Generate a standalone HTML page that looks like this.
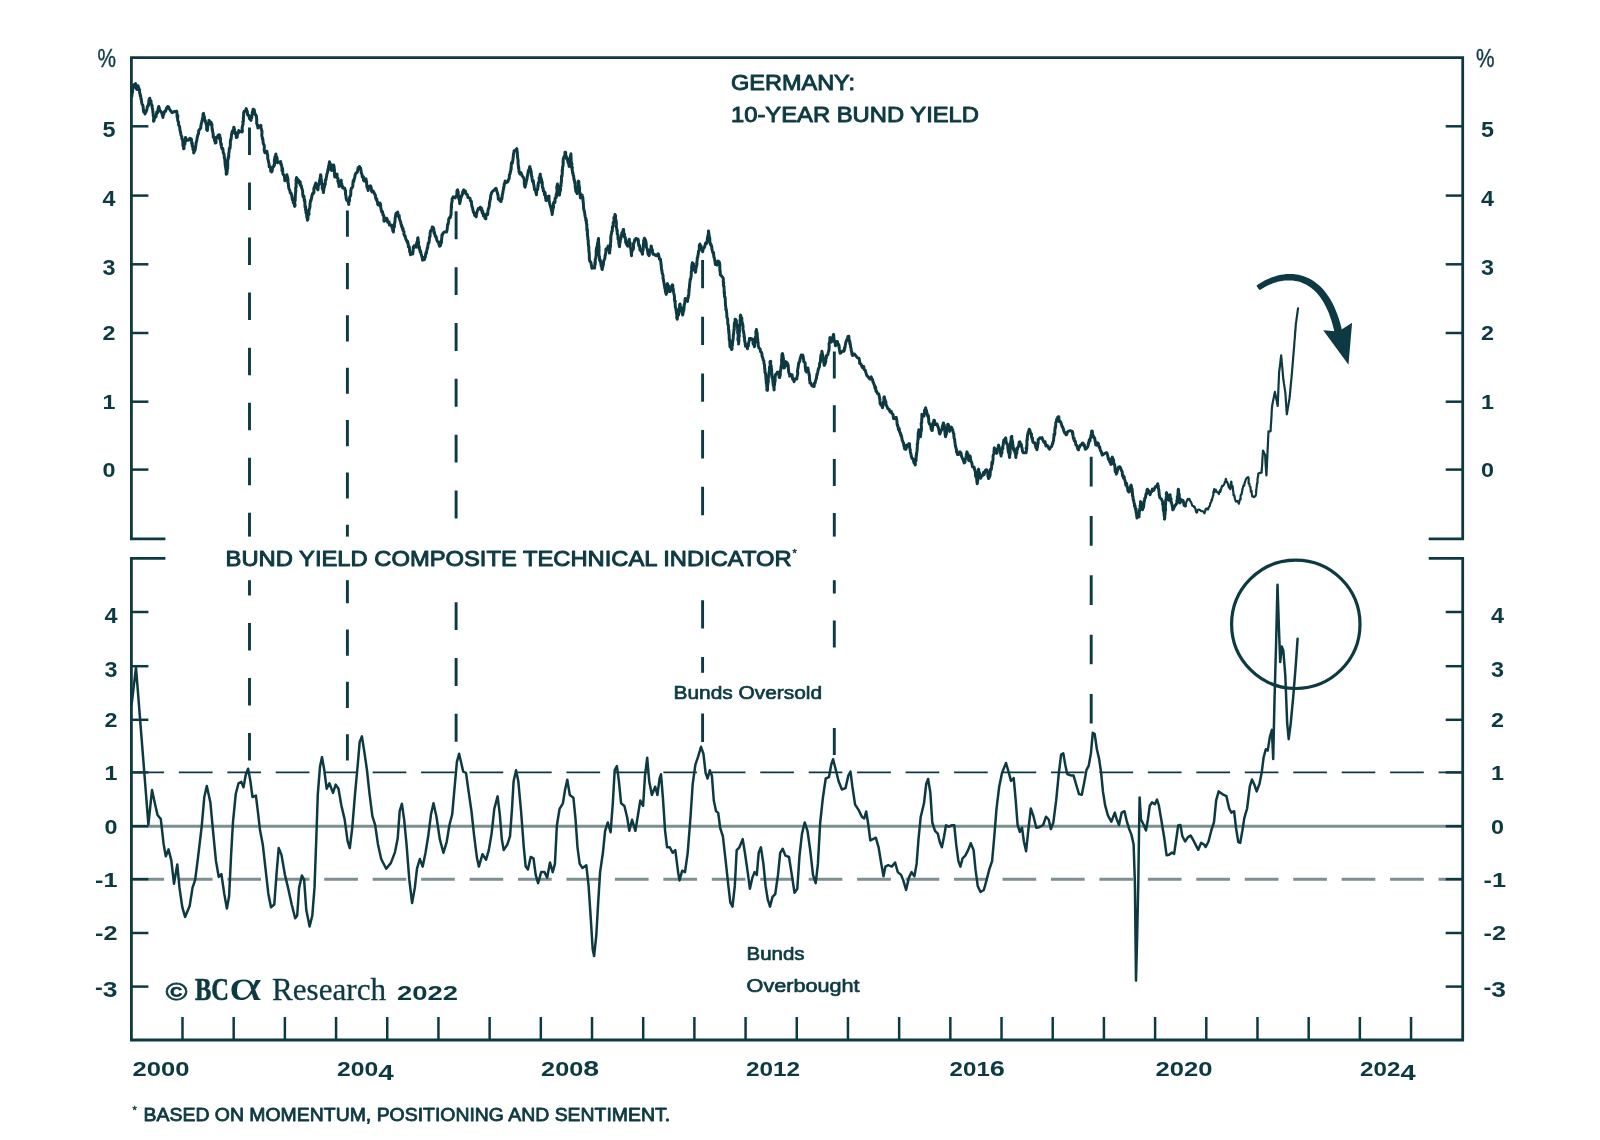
<!DOCTYPE html>
<html><head><meta charset="utf-8"><title>Germany 10-Year Bund Yield</title>
<style>html,body{margin:0;padding:0;background:#fff}body{width:1600px;height:1140px;position:relative;overflow:hidden}</style>
</head><body>
<svg width="1600" height="1140" viewBox="0 0 1600 1140" style="position:absolute;left:0;top:0;filter:blur(0.45px)">
<rect width="1600" height="1140" fill="#fff"/>
<line x1="249.5" y1="127.4" x2="249.5" y2="760.5" stroke="#0d3a42" stroke-width="2.9" stroke-dasharray="27.53 27.53"/>
<line x1="347.4" y1="210.6" x2="347.4" y2="760.4" stroke="#0d3a42" stroke-width="2.9" stroke-dasharray="26.18 26.18"/>
<line x1="456.1" y1="211.3" x2="456.1" y2="741.8" stroke="#0d3a42" stroke-width="2.9" stroke-dasharray="27.92 27.92"/>
<line x1="702.6" y1="260" x2="702.6" y2="741.9" stroke="#0d3a42" stroke-width="2.9" stroke-dasharray="28.35 28.35"/>
<line x1="834.3" y1="351.5" x2="834.3" y2="755" stroke="#0d3a42" stroke-width="2.9" stroke-dasharray="26.90 26.90"/>
<line x1="1091.2" y1="456.8" x2="1091.2" y2="723.6" stroke="#0d3a42" stroke-width="2.9" stroke-dasharray="29.64 29.64"/>
<rect x="222" y="536.6" width="630" height="43.6" fill="#fff"/>
<rect x="668" y="672.8" width="184" height="38.5" fill="#fff"/>
<line x1="131.4" y1="826.2" x2="1462.7" y2="826.2" stroke="#7d8f91" stroke-width="3"/>
<line x1="130.4" y1="879.2" x2="1462.7" y2="879.2" stroke="#7d8f91" stroke-width="3" stroke-dasharray="33.7 14.75"/>
<line x1="130.4" y1="772.4" x2="1462.7" y2="772.4" stroke="#0d3a42" stroke-width="1.6" stroke-dasharray="33.7 14.75"/>
<path d="M165.4,538.8 H131.4 V57.6 H1462.7 V538.8 H1428.7" fill="none" stroke="#0d3a42" stroke-width="2.8" stroke-linejoin="miter"/>
<path d="M165.4,558.3 H131.4 V1040.0 H1462.7 V558.3 H1428.7" fill="none" stroke="#0d3a42" stroke-width="2.8" stroke-linejoin="miter"/>
<line x1="131.4" y1="126.3" x2="148.4" y2="126.3" stroke="#0d3a42" stroke-width="2.5"/>
<line x1="1462.7" y1="126.3" x2="1445.7" y2="126.3" stroke="#0d3a42" stroke-width="2.5"/>
<line x1="131.4" y1="195.6" x2="148.4" y2="195.6" stroke="#0d3a42" stroke-width="2.5"/>
<line x1="1462.7" y1="195.6" x2="1445.7" y2="195.6" stroke="#0d3a42" stroke-width="2.5"/>
<line x1="131.4" y1="264.3" x2="148.4" y2="264.3" stroke="#0d3a42" stroke-width="2.5"/>
<line x1="1462.7" y1="264.3" x2="1445.7" y2="264.3" stroke="#0d3a42" stroke-width="2.5"/>
<line x1="131.4" y1="333.0" x2="148.4" y2="333.0" stroke="#0d3a42" stroke-width="2.5"/>
<line x1="1462.7" y1="333.0" x2="1445.7" y2="333.0" stroke="#0d3a42" stroke-width="2.5"/>
<line x1="131.4" y1="401.7" x2="148.4" y2="401.7" stroke="#0d3a42" stroke-width="2.5"/>
<line x1="1462.7" y1="401.7" x2="1445.7" y2="401.7" stroke="#0d3a42" stroke-width="2.5"/>
<line x1="131.4" y1="469.6" x2="148.4" y2="469.6" stroke="#0d3a42" stroke-width="2.5"/>
<line x1="1462.7" y1="469.6" x2="1445.7" y2="469.6" stroke="#0d3a42" stroke-width="2.5"/>
<line x1="131.4" y1="612.0" x2="148.4" y2="612.0" stroke="#0d3a42" stroke-width="2.5"/>
<line x1="1462.7" y1="612.0" x2="1445.7" y2="612.0" stroke="#0d3a42" stroke-width="2.5"/>
<line x1="131.4" y1="666.2" x2="148.4" y2="666.2" stroke="#0d3a42" stroke-width="2.5"/>
<line x1="1462.7" y1="666.2" x2="1445.7" y2="666.2" stroke="#0d3a42" stroke-width="2.5"/>
<line x1="131.4" y1="719.8" x2="148.4" y2="719.8" stroke="#0d3a42" stroke-width="2.5"/>
<line x1="1462.7" y1="719.8" x2="1445.7" y2="719.8" stroke="#0d3a42" stroke-width="2.5"/>
<line x1="131.4" y1="772.4" x2="148.4" y2="772.4" stroke="#0d3a42" stroke-width="2.5"/>
<line x1="1462.7" y1="772.4" x2="1445.7" y2="772.4" stroke="#0d3a42" stroke-width="2.5"/>
<line x1="131.4" y1="826.2" x2="148.4" y2="826.2" stroke="#0d3a42" stroke-width="2.5"/>
<line x1="1462.7" y1="826.2" x2="1445.7" y2="826.2" stroke="#0d3a42" stroke-width="2.5"/>
<line x1="131.4" y1="879.2" x2="148.4" y2="879.2" stroke="#0d3a42" stroke-width="2.5"/>
<line x1="1462.7" y1="879.2" x2="1445.7" y2="879.2" stroke="#0d3a42" stroke-width="2.5"/>
<line x1="131.4" y1="933.0" x2="148.4" y2="933.0" stroke="#0d3a42" stroke-width="2.5"/>
<line x1="1462.7" y1="933.0" x2="1445.7" y2="933.0" stroke="#0d3a42" stroke-width="2.5"/>
<line x1="131.4" y1="986.6" x2="148.4" y2="986.6" stroke="#0d3a42" stroke-width="2.5"/>
<line x1="1462.7" y1="986.6" x2="1445.7" y2="986.6" stroke="#0d3a42" stroke-width="2.5"/>
<line x1="182.49" y1="1040.0" x2="182.49" y2="1017.0" stroke="#0d3a42" stroke-width="2.5"/>
<line x1="233.68" y1="1040.0" x2="233.68" y2="1017.0" stroke="#0d3a42" stroke-width="2.5"/>
<line x1="284.87" y1="1040.0" x2="284.87" y2="1017.0" stroke="#0d3a42" stroke-width="2.5"/>
<line x1="336.06" y1="1040.0" x2="336.06" y2="1017.0" stroke="#0d3a42" stroke-width="2.5"/>
<line x1="387.25" y1="1040.0" x2="387.25" y2="1017.0" stroke="#0d3a42" stroke-width="2.5"/>
<line x1="438.44" y1="1040.0" x2="438.44" y2="1017.0" stroke="#0d3a42" stroke-width="2.5"/>
<line x1="489.63" y1="1040.0" x2="489.63" y2="1017.0" stroke="#0d3a42" stroke-width="2.5"/>
<line x1="540.82" y1="1040.0" x2="540.82" y2="1017.0" stroke="#0d3a42" stroke-width="2.5"/>
<line x1="592.01" y1="1040.0" x2="592.01" y2="1017.0" stroke="#0d3a42" stroke-width="2.5"/>
<line x1="643.20" y1="1040.0" x2="643.20" y2="1017.0" stroke="#0d3a42" stroke-width="2.5"/>
<line x1="694.39" y1="1040.0" x2="694.39" y2="1017.0" stroke="#0d3a42" stroke-width="2.5"/>
<line x1="745.58" y1="1040.0" x2="745.58" y2="1017.0" stroke="#0d3a42" stroke-width="2.5"/>
<line x1="796.77" y1="1040.0" x2="796.77" y2="1017.0" stroke="#0d3a42" stroke-width="2.5"/>
<line x1="847.96" y1="1040.0" x2="847.96" y2="1017.0" stroke="#0d3a42" stroke-width="2.5"/>
<line x1="899.15" y1="1040.0" x2="899.15" y2="1017.0" stroke="#0d3a42" stroke-width="2.5"/>
<line x1="950.34" y1="1040.0" x2="950.34" y2="1017.0" stroke="#0d3a42" stroke-width="2.5"/>
<line x1="1001.53" y1="1040.0" x2="1001.53" y2="1017.0" stroke="#0d3a42" stroke-width="2.5"/>
<line x1="1052.72" y1="1040.0" x2="1052.72" y2="1017.0" stroke="#0d3a42" stroke-width="2.5"/>
<line x1="1103.91" y1="1040.0" x2="1103.91" y2="1017.0" stroke="#0d3a42" stroke-width="2.5"/>
<line x1="1155.10" y1="1040.0" x2="1155.10" y2="1017.0" stroke="#0d3a42" stroke-width="2.5"/>
<line x1="1206.29" y1="1040.0" x2="1206.29" y2="1017.0" stroke="#0d3a42" stroke-width="2.5"/>
<line x1="1257.48" y1="1040.0" x2="1257.48" y2="1017.0" stroke="#0d3a42" stroke-width="2.5"/>
<line x1="1308.67" y1="1040.0" x2="1308.67" y2="1017.0" stroke="#0d3a42" stroke-width="2.5"/>
<line x1="1359.86" y1="1040.0" x2="1359.86" y2="1017.0" stroke="#0d3a42" stroke-width="2.5"/>
<line x1="1411.05" y1="1040.0" x2="1411.05" y2="1017.0" stroke="#0d3a42" stroke-width="2.5"/>
<path d="M131.9,96.2 L131.9,94.1 L132.1,94.0 L132.5,92.2 L132.8,88.9 L133.0,87.4 L133.3,87.9 L133.7,84.8 L134.8,84.9 L135.3,83.8 L135.5,83.6 L136.3,87.0 L136.3,88.2 L136.7,89.3 L137.1,89.5 L138.1,85.8 L138.3,88.7 L138.5,87.2 L139.3,89.2 L139.5,90.1 L139.7,93.3 L140.2,94.1 L140.2,95.8 L140.6,95.3 L141.0,99.3 L141.4,99.3 L141.5,101.3 L142.0,104.1 L142.2,104.4 L142.7,104.8 L143.2,107.3 L143.3,109.5 L143.6,111.9 L144.3,111.0 L144.6,111.3 L145.0,114.1 L145.5,110.9 L145.9,112.4 L146.2,111.5 L146.9,109.4 L147.2,107.5 L147.7,105.8 L148.4,105.7 L148.7,102.7 L149.1,99.5 L149.7,100.3 L149.8,98.2 L150.1,101.0 L150.7,100.8 L151.0,100.9 L151.2,103.0 L151.9,105.8 L152.2,105.6 L152.1,107.4 L152.7,109.9 L152.7,110.2 L153.1,113.6 L153.3,116.2 L153.3,115.5 L153.7,117.4 L153.5,121.3 L153.9,121.0 L154.5,118.3 L155.3,117.1 L156.0,116.8 L156.2,115.7 L156.7,111.9 L157.2,111.9 L157.7,112.7 L158.0,109.5 L158.1,108.7 L158.8,106.5 L159.6,109.7 L160.3,111.2 L160.8,111.3 L161.3,112.4 L161.9,112.8 L162.1,114.2 L162.9,117.5 L163.2,115.1 L163.7,114.4 L164.3,111.8 L165.0,111.0 L165.6,111.3 L166.6,107.8 L166.8,108.6 L167.7,106.5 L168.5,106.9 L169.3,108.7 L170.5,110.6 L172.1,112.7 L173.2,112.0 L174.9,111.5 L176.7,111.3 L176.7,111.2 L177.0,113.8 L177.1,117.2 L177.8,115.5 L177.6,119.1 L177.8,120.7 L178.6,122.2 L178.6,125.0 L178.7,125.1 L179.0,125.5 L179.6,126.5 L179.9,129.4 L179.9,129.9 L180.7,133.2 L181.0,134.8 L181.3,136.0 L181.5,136.1 L181.8,136.6 L181.8,138.6 L182.3,138.9 L182.8,141.4 L183.0,145.7 L183.6,147.2 L183.6,148.8 L184.0,148.5 L184.0,145.8 L184.3,144.2 L184.9,144.3 L184.9,143.6 L185.3,141.3 L185.5,137.4 L185.6,137.5 L186.7,140.1 L187.4,140.3 L188.4,140.3 L189.9,138.3 L191.1,138.9 L191.6,139.7 L191.7,143.8 L192.3,143.1 L192.2,145.9 L192.4,145.0 L193.1,149.7 L193.5,148.2 L193.7,153.0 L193.9,152.7 L194.3,150.7 L194.3,148.4 L195.0,150.4 L195.5,147.3 L195.8,145.5 L195.8,145.7 L196.2,142.0 L196.6,141.6 L197.0,139.0 L197.2,137.5 L197.8,135.4 L197.8,134.8 L198.4,134.1 L198.7,131.9 L198.7,130.6 L199.8,129.2 L200.8,127.9 L200.8,126.5 L201.1,124.7 L201.8,121.5 L201.9,120.8 L202.2,121.5 L202.4,118.5 L202.9,118.0 L203.0,114.7 L203.1,113.8 L203.5,113.4 L203.9,116.0 L204.4,116.6 L204.5,119.5 L204.9,119.8 L205.4,120.9 L205.6,122.3 L205.9,123.5 L206.5,125.0 L206.7,127.3 L206.6,129.6 L207.3,129.5 L207.4,130.6 L207.4,130.5 L207.8,126.1 L207.9,124.5 L208.4,123.0 L208.8,124.4 L208.9,120.4 L209.0,120.3 L209.9,122.0 L211.1,122.3 L211.6,125.4 L211.9,124.3 L211.9,126.6 L212.3,130.5 L212.3,128.7 L212.6,131.7 L212.8,132.0 L213.2,134.7 L213.2,137.0 L213.8,137.7 L214.1,137.0 L214.6,140.8 L215.2,139.9 L215.2,143.0 L216.0,142.8 L216.1,138.7 L216.9,137.0 L217.3,137.5 L218.1,135.2 L219.4,134.7 L219.9,136.0 L219.7,139.1 L220.4,138.0 L220.5,141.2 L220.4,140.9 L220.9,144.8 L221.4,143.9 L221.4,147.1 L222.1,149.1 L222.6,148.2 L223.0,149.5 L223.2,152.5 L224.0,154.2 L224.2,155.4 L224.2,155.9 L224.4,158.4 L224.6,158.1 L224.8,159.3 L225.0,161.8 L225.2,165.0 L225.3,165.4 L225.4,166.2 L225.6,167.3 L226.1,170.6 L226.3,169.9 L226.2,174.3 L226.7,174.0 L226.8,173.8 L227.2,170.9 L227.2,169.0 L227.6,168.7 L227.7,165.8 L227.8,165.7 L227.7,163.0 L227.8,160.0 L228.3,158.6 L228.1,157.8 L228.7,155.6 L228.8,157.2 L228.7,153.3 L229.0,152.7 L229.2,150.3 L229.4,148.2 L230.0,147.1 L230.0,148.4 L230.4,144.0 L230.3,142.7 L230.5,139.9 L230.8,140.3 L231.1,138.9 L231.4,136.2 L231.6,134.0 L232.0,132.8 L232.2,131.2 L232.6,130.8 L233.2,130.4 L233.6,129.6 L233.8,127.2 L234.5,129.5 L234.5,129.7 L234.8,133.5 L235.5,134.0 L236.0,132.7 L236.3,137.6 L236.6,137.5 L237.2,137.1 L237.4,133.3 L238.0,133.4 L238.4,133.2 L238.7,130.6 L240.6,131.6 L242.1,132.0 L242.4,131.2 L242.1,128.0 L242.5,126.1 L242.9,124.5 L242.9,124.8 L243.1,123.6 L242.8,121.6 L243.4,121.4 L243.4,118.7 L243.3,117.9 L243.6,116.7 L243.7,112.6 L243.8,113.7 L244.2,111.3 L245.5,110.9 L246.2,108.6 L246.6,109.9 L247.2,111.2 L247.5,113.8 L247.6,114.7 L248.3,115.5 L248.8,115.3 L249.6,118.8 L250.1,119.3 L251.0,120.3 L251.2,117.0 L251.8,117.8 L251.8,116.3 L252.2,114.1 L252.3,112.3 L252.6,112.4 L253.1,109.3 L253.9,112.4 L254.2,109.8 L255.0,114.3 L255.2,114.0 L255.9,115.5 L256.4,115.8 L256.4,117.4 L256.7,118.7 L256.7,123.5 L257.2,124.5 L257.5,126.3 L257.9,125.2 L257.9,127.9 L259.0,126.8 L260.7,125.8 L260.9,125.3 L261.0,128.5 L261.3,128.7 L261.8,130.9 L262.0,131.1 L261.8,135.9 L262.4,137.7 L262.4,139.0 L262.8,138.9 L262.9,139.9 L263.3,143.9 L263.4,142.9 L263.4,144.1 L264.1,144.9 L264.4,147.2 L264.2,148.6 L264.4,151.2 L264.8,152.7 L266.1,151.5 L266.9,151.3 L267.3,154.4 L267.7,154.9 L267.7,157.7 L267.7,158.4 L268.2,160.0 L268.5,161.6 L268.4,161.3 L269.0,163.7 L269.2,166.8 L269.8,166.3 L270.5,167.0 L270.7,171.1 L271.1,171.2 L271.7,171.9 L272.2,170.8 L272.5,167.9 L273.5,166.6 L273.8,166.4 L273.9,164.9 L274.6,165.0 L274.3,161.6 L274.6,159.0 L274.8,158.0 L275.2,156.1 L275.8,155.9 L275.8,154.0 L276.1,156.4 L276.5,156.4 L276.8,157.7 L277.1,157.8 L277.3,162.8 L277.9,162.3 L279.4,162.0 L280.7,161.6 L280.8,164.5 L281.1,163.6 L281.6,165.6 L282.1,169.2 L281.9,170.4 L282.6,168.5 L282.8,173.4 L282.8,173.6 L283.4,174.7 L284.2,175.6 L284.7,178.8 L284.8,180.7 L285.5,180.2 L285.6,177.3 L286.3,177.5 L286.7,177.8 L286.9,174.7 L287.3,176.8 L287.4,177.6 L287.7,177.4 L288.0,179.7 L287.9,182.9 L288.1,182.4 L288.6,186.0 L288.4,185.4 L288.9,188.5 L289.5,189.9 L289.9,190.8 L290.3,193.0 L291.1,193.2 L291.7,195.4 L292.2,198.6 L292.4,199.7 L292.7,198.4 L293.3,202.7 L293.3,201.5 L294.1,203.6 L294.2,204.7 L294.7,206.4 L295.1,205.5 L294.6,202.2 L295.0,201.2 L294.9,201.0 L295.3,200.0 L295.1,197.3 L295.3,197.6 L295.3,195.5 L295.7,191.6 L295.9,190.3 L295.6,189.6 L295.8,187.0 L296.2,187.2 L296.0,183.6 L296.4,182.4 L296.0,180.6 L296.3,178.7 L296.6,180.6 L296.5,177.5 L297.8,179.8 L298.6,180.2 L299.2,183.3 L300.2,181.7 L300.4,185.3 L301.3,185.7 L301.6,187.9 L301.9,188.3 L302.1,189.0 L302.6,191.0 L302.8,195.3 L303.2,196.9 L303.9,196.0 L304.1,198.1 L304.3,200.9 L304.5,199.3 L305.0,202.0 L304.9,202.8 L305.0,207.1 L305.7,206.6 L305.4,209.5 L305.7,208.0 L306.0,213.0 L306.6,213.8 L306.5,213.6 L306.9,217.6 L307.2,216.3 L307.2,218.0 L307.5,220.2 L307.9,216.7 L308.1,218.8 L307.9,217.5 L308.4,213.1 L309.0,214.5 L308.8,210.7 L309.1,209.4 L309.2,209.9 L309.7,207.9 L310.0,206.5 L310.0,204.2 L310.3,202.2 L310.7,200.1 L311.0,200.6 L311.8,196.9 L311.9,195.7 L312.6,193.5 L313.0,194.0 L313.7,191.9 L314.0,192.8 L313.8,188.9 L314.4,186.9 L314.7,187.9 L315.1,184.7 L315.6,184.8 L315.8,183.0 L316.4,185.3 L316.4,186.4 L316.9,188.5 L317.4,188.7 L317.9,189.8 L318.0,189.3 L318.3,185.8 L318.9,183.9 L318.9,184.1 L319.5,181.9 L319.4,180.8 L319.9,180.5 L319.8,179.7 L320.5,176.1 L320.6,174.7 L321.1,177.6 L321.0,175.8 L321.1,177.7 L321.6,182.6 L321.7,183.9 L322.0,185.1 L322.4,184.2 L322.2,188.4 L322.8,188.5 L322.8,188.5 L323.0,189.7 L323.4,192.6 L323.7,190.1 L323.8,190.2 L324.2,186.1 L324.4,187.2 L324.7,184.2 L325.2,184.6 L325.3,180.1 L325.9,179.9 L326.1,178.8 L326.2,177.9 L326.9,174.5 L326.9,174.0 L327.7,172.0 L327.7,170.6 L328.0,169.2 L328.6,169.8 L328.5,166.3 L328.8,166.2 L329.5,161.8 L329.6,162.3 L330.1,163.4 L330.5,164.7 L330.4,166.3 L331.0,165.9 L331.5,169.7 L331.6,170.6 L332.2,167.5 L332.7,167.3 L333.1,165.0 L333.7,165.1 L334.1,166.6 L334.0,166.4 L334.5,170.7 L334.1,169.7 L334.8,174.2 L334.4,173.8 L334.8,177.1 L335.0,176.8 L336.1,177.1 L337.1,174.1 L337.1,176.9 L337.4,178.3 L338.0,178.3 L337.9,181.6 L338.3,180.7 L338.5,183.5 L338.7,183.4 L339.1,186.5 L339.9,185.8 L340.2,181.5 L340.4,182.9 L341.2,180.3 L341.2,183.1 L341.8,183.7 L341.9,185.3 L342.4,186.0 L342.6,187.9 L344.6,187.9 L345.0,189.1 L345.1,190.7 L345.5,190.6 L345.5,194.0 L346.1,196.7 L346.0,197.0 L346.2,198.6 L346.7,200.3 L347.4,200.1 L348.1,201.4 L348.8,204.4 L348.7,202.9 L349.0,201.9 L349.6,200.7 L349.4,198.3 L349.9,196.8 L349.9,197.0 L350.7,195.1 L350.8,193.1 L350.8,190.6 L351.5,188.0 L351.9,187.8 L351.9,188.1 L352.8,186.3 L352.9,183.7 L353.2,180.6 L353.4,182.0 L353.8,181.2 L354.1,179.5 L354.9,176.8 L355.0,175.5 L355.9,172.9 L357.0,172.7 L357.6,171.2 L358.1,167.8 L359.2,166.7 L359.5,166.5 L360.2,168.7 L360.6,168.2 L360.9,169.5 L361.3,173.1 L361.9,174.1 L362.3,177.0 L362.9,177.2 L363.4,176.6 L363.5,180.1 L363.9,181.0 L364.8,181.1 L366.0,178.9 L366.3,182.3 L366.7,181.3 L366.6,183.1 L366.8,185.7 L367.1,187.5 L367.8,188.2 L367.9,189.5 L368.1,190.6 L368.4,188.7 L369.1,186.3 L369.9,187.5 L370.5,185.8 L371.2,187.4 L371.2,187.4 L371.5,191.1 L372.2,192.0 L373.0,190.9 L373.9,192.3 L374.9,194.7 L375.4,195.0 L375.6,197.9 L376.1,199.4 L376.8,198.8 L376.7,200.6 L377.4,201.4 L377.7,204.4 L378.9,205.2 L379.8,203.0 L380.0,204.0 L380.5,203.8 L380.7,207.4 L381.1,209.1 L381.6,211.6 L381.8,211.3 L382.5,211.6 L382.6,212.2 L382.9,215.0 L383.6,215.0 L383.8,216.2 L384.0,221.3 L384.6,220.9 L385.7,218.3 L386.7,218.2 L387.3,219.6 L387.6,222.2 L388.2,221.5 L389.1,221.9 L389.4,225.1 L391.5,225.1 L392.0,227.6 L392.5,225.8 L392.7,230.2 L393.1,231.5 L393.5,231.9 L393.5,229.3 L393.6,227.9 L394.3,226.8 L394.5,226.7 L394.3,225.3 L394.6,223.1 L394.9,222.6 L395.1,219.0 L395.1,220.3 L395.1,218.4 L395.6,215.4 L396.1,213.3 L397.3,214.1 L397.7,212.0 L398.0,214.5 L398.4,216.5 L399.2,215.5 L399.4,218.6 L399.7,219.5 L400.4,221.6 L400.7,222.2 L401.1,224.5 L401.5,224.8 L401.6,226.7 L402.2,226.7 L402.5,229.2 L403.2,228.9 L403.0,230.5 L404.0,231.7 L403.9,234.1 L404.6,236.1 L405.0,235.6 L406.0,239.6 L406.6,240.2 L407.2,242.4 L407.5,241.2 L408.1,243.8 L408.5,247.0 L408.7,247.1 L409.3,246.9 L409.7,251.8 L409.6,250.1 L409.9,251.6 L410.5,254.7 L412.1,254.0 L412.7,254.0 L413.0,251.8 L413.1,250.4 L413.3,246.9 L413.7,248.1 L414.2,245.7 L415.2,245.7 L416.3,247.1 L416.4,243.7 L416.9,243.2 L416.9,242.1 L417.2,243.0 L417.5,241.0 L417.7,238.1 L417.9,237.7 L418.3,240.8 L418.6,241.9 L418.5,244.1 L418.7,246.9 L419.0,248.2 L419.3,246.4 L419.7,249.8 L420.4,252.4 L420.5,250.8 L421.1,254.2 L421.3,254.5 L421.9,256.6 L422.3,257.7 L422.5,260.2 L424.5,259.5 L424.7,257.3 L425.2,257.5 L425.7,253.8 L426.1,252.3 L426.4,253.4 L426.6,251.2 L426.9,250.4 L427.2,248.1 L427.4,248.7 L427.7,247.3 L428.2,243.2 L428.7,243.0 L428.9,243.0 L429.4,239.4 L429.4,237.2 L429.9,236.9 L430.1,236.2 L430.1,233.1 L430.7,230.7 L430.7,230.6 L431.7,230.1 L432.3,226.9 L433.1,227.1 L433.5,229.7 L433.8,228.7 L434.0,233.2 L434.4,231.9 L434.9,234.7 L435.6,236.9 L435.8,236.1 L436.4,237.8 L436.9,240.3 L437.6,241.6 L438.4,242.3 L439.6,246.2 L440.4,245.7 L441.0,242.5 L440.9,241.0 L441.4,242.9 L441.5,240.4 L441.9,236.6 L442.0,234.7 L442.5,234.7 L443.2,232.9 L444.5,231.9 L446.6,231.9 L447.0,230.0 L447.1,229.6 L447.3,227.8 L447.7,224.3 L448.0,223.8 L448.1,224.3 L448.5,221.4 L448.7,219.5 L449.2,217.8 L450.3,217.7 L450.7,215.4 L451.0,215.0 L451.1,213.8 L451.1,211.5 L451.3,208.7 L451.3,206.3 L451.6,207.5 L451.4,205.4 L451.7,203.1 L451.8,202.4 L452.2,201.1 L452.1,198.9 L453.2,196.9 L454.2,197.5 L455.1,197.9 L456.2,196.1 L456.9,194.5 L456.9,191.2 L457.4,190.1 L457.6,189.9 L457.8,193.2 L458.1,191.4 L458.4,194.7 L458.6,196.1 L458.8,198.9 L459.3,198.8 L459.3,199.5 L459.6,201.7 L459.7,203.7 L460.4,200.7 L460.2,200.1 L460.9,198.3 L461.3,195.7 L461.7,196.1 L462.4,194.3 L462.6,192.4 L463.4,190.4 L463.8,189.9 L464.5,192.8 L465.4,191.1 L465.9,193.4 L466.4,194.3 L467.4,194.6 L467.9,197.5 L470.0,198.2 L470.4,200.8 L470.7,200.8 L471.3,201.2 L471.5,203.1 L471.9,206.4 L472.1,206.5 L472.5,207.9 L472.9,209.7 L473.5,212.4 L474.1,212.7 L474.7,215.4 L475.4,214.9 L476.2,216.8 L476.4,215.1 L477.0,212.0 L477.1,211.8 L477.6,210.5 L478.0,209.6 L478.3,208.5 L479.2,208.5 L480.3,207.1 L481.1,210.2 L481.6,208.1 L482.2,212.9 L482.7,211.2 L483.1,214.0 L483.5,215.8 L484.7,214.5 L485.0,218.3 L485.8,218.9 L486.0,215.7 L486.8,214.8 L486.9,213.7 L487.7,214.4 L487.9,211.3 L488.4,208.4 L488.7,208.6 L489.0,207.2 L489.3,206.1 L489.5,202.2 L489.8,202.0 L490.0,200.3 L490.6,198.6 L490.5,197.7 L490.8,195.1 L491.1,194.7 L491.5,193.2 L492.0,192.0 L493.0,191.0 L494.1,190.3 L494.8,189.2 L496.0,188.3 L496.9,191.3 L497.3,192.7 L497.9,195.0 L498.1,195.3 L498.3,199.2 L498.9,198.9 L500.0,200.8 L501.0,201.6 L501.4,198.2 L501.8,199.2 L502.2,196.2 L502.2,195.4 L502.2,195.4 L502.8,193.1 L503.1,190.6 L503.6,188.6 L503.6,187.3 L504.1,186.6 L504.2,183.9 L504.6,183.4 L504.7,183.7 L505.1,181.0 L506.5,182.6 L507.9,181.7 L508.2,180.2 L509.0,178.7 L509.3,177.7 L509.4,174.9 L510.0,174.1 L510.3,171.7 L510.7,171.5 L511.0,167.5 L511.2,169.3 L511.3,164.4 L511.5,162.7 L512.0,163.1 L512.3,163.2 L512.7,160.6 L512.9,160.1 L513.1,157.3 L513.4,156.1 L513.4,154.5 L513.8,152.9 L514.1,150.7 L515.2,150.7 L516.8,148.6 L516.7,148.8 L517.4,152.7 L517.2,153.8 L517.6,155.9 L517.4,156.4 L517.6,156.9 L517.8,158.5 L518.2,161.3 L518.1,160.5 L518.0,161.9 L518.4,166.5 L518.5,168.5 L518.6,166.4 L519.0,170.2 L518.9,171.3 L519.9,173.9 L521.0,172.7 L521.4,173.7 L522.2,176.0 L523.0,176.8 L523.0,176.9 L523.7,177.8 L524.2,179.8 L524.4,181.1 L524.2,182.7 L524.7,186.6 L525.1,187.2 L525.2,186.6 L525.9,182.4 L526.2,183.6 L526.0,182.2 L526.7,180.3 L527.1,178.2 L527.2,176.8 L527.8,174.4 L527.7,174.8 L528.4,170.5 L528.5,172.2 L529.3,168.7 L529.8,166.6 L529.9,166.5 L529.9,167.9 L530.5,168.9 L530.8,170.7 L531.1,170.9 L531.3,173.3 L531.4,175.8 L531.9,176.3 L532.0,178.2 L532.5,181.4 L532.6,181.2 L533.3,180.6 L533.6,184.5 L533.8,184.4 L534.1,186.5 L534.6,189.8 L534.7,189.6 L535.5,190.3 L535.7,191.5 L536.2,193.8 L536.4,194.7 L536.5,194.4 L536.8,189.6 L537.2,189.7 L537.7,189.7 L537.9,185.0 L538.2,186.5 L538.2,183.7 L538.4,182.6 L539.0,182.4 L539.3,180.3 L539.1,177.6 L539.8,177.1 L540.1,174.3 L540.3,174.1 L540.4,177.4 L541.0,177.7 L541.0,178.7 L541.6,179.4 L541.7,183.1 L542.2,181.9 L542.3,185.1 L542.5,187.6 L543.2,188.2 L543.2,190.8 L543.6,190.5 L543.6,190.7 L544.2,192.1 L544.4,194.7 L544.7,193.0 L545.0,192.3 L545.2,193.3 L545.2,193.7 L545.6,198.5 L546.0,196.3 L545.9,200.4 L546.4,200.6 L547.0,199.6 L547.5,197.9 L548.4,196.5 L549.0,196.0 L549.0,200.7 L549.2,200.9 L549.6,203.1 L550.1,205.2 L550.5,206.0 L550.5,206.1 L550.5,206.5 L550.9,207.7 L551.1,208.6 L551.8,211.9 L552.2,212.8 L552.2,214.4 L552.1,214.5 L552.5,211.7 L553.1,208.2 L553.1,207.2 L553.6,207.2 L553.4,205.8 L553.5,203.3 L554.0,202.0 L554.9,202.5 L555.1,198.1 L556.0,197.9 L556.1,195.4 L556.6,196.4 L556.2,194.6 L556.8,192.9 L557.1,190.8 L556.7,186.9 L557.4,188.2 L557.1,186.3 L557.4,184.1 L557.8,186.0 L557.9,185.7 L558.1,187.8 L558.4,190.3 L558.7,190.9 L558.9,194.2 L559.5,195.1 L559.5,194.5 L560.1,190.2 L560.3,189.4 L560.5,190.5 L560.5,186.1 L561.0,184.4 L561.0,185.9 L561.0,182.8 L561.3,182.8 L561.5,179.9 L561.5,179.0 L561.5,175.9 L562.0,176.4 L562.3,172.7 L562.2,171.7 L562.2,169.8 L562.4,171.0 L562.6,166.9 L563.0,166.0 L563.2,163.7 L563.3,162.0 L563.0,163.0 L563.2,160.8 L563.3,158.4 L563.6,157.9 L564.4,156.0 L564.9,157.1 L565.0,152.2 L565.7,152.4 L565.7,155.4 L566.2,156.1 L566.4,158.4 L566.9,159.1 L567.1,157.8 L567.7,160.7 L568.3,163.4 L568.7,162.2 L569.1,166.4 L569.8,166.2 L569.7,164.9 L570.2,161.8 L570.0,162.4 L570.1,158.3 L570.5,158.9 L570.4,156.0 L570.9,155.8 L570.9,153.8 L571.1,156.5 L570.9,155.6 L571.2,159.2 L571.1,160.6 L571.4,162.4 L571.9,164.0 L571.5,164.1 L571.9,167.3 L571.9,168.6 L572.4,167.4 L572.1,169.6 L572.5,171.1 L572.6,173.1 L572.9,172.5 L573.2,175.6 L573.6,175.7 L574.0,179.8 L574.2,179.2 L574.5,180.9 L574.6,182.7 L575.1,182.3 L575.2,187.3 L575.5,186.9 L575.5,188.4 L575.9,191.5 L576.1,189.7 L576.9,191.3 L577.0,193.7 L576.9,190.3 L577.2,191.4 L577.7,187.1 L577.9,187.8 L577.8,186.8 L578.4,185.9 L578.3,181.1 L578.8,181.3 L578.9,182.8 L578.8,183.5 L579.0,185.5 L579.6,187.7 L579.6,187.4 L579.5,191.3 L580.2,193.2 L580.0,192.9 L580.2,196.2 L580.6,195.9 L580.5,197.9 L581.3,197.6 L582.2,195.1 L582.3,195.6 L582.9,197.9 L583.0,200.8 L583.2,202.4 L583.1,200.8 L583.6,206.0 L583.5,204.6 L583.6,207.7 L583.6,208.8 L584.1,209.9 L584.3,211.6 L584.4,211.1 L585.1,216.3 L585.4,217.5 L585.9,218.4 L585.7,220.1 L586.3,219.9 L586.3,221.9 L586.4,223.5 L586.9,224.4 L586.7,226.2 L586.9,227.3 L586.9,230.5 L587.3,229.3 L587.4,230.1 L587.4,234.9 L587.5,233.6 L587.5,236.1 L587.6,235.9 L587.9,238.0 L587.9,239.5 L588.2,240.1 L588.3,244.6 L588.4,244.7 L588.6,246.5 L588.8,246.5 L588.8,249.0 L588.9,251.2 L588.9,251.5 L589.2,252.6 L589.3,254.7 L589.3,254.8 L589.4,259.7 L589.6,260.0 L589.8,261.2 L590.6,261.7 L591.0,263.2 L591.2,264.0 L591.9,268.2 L592.5,268.1 L594.6,268.1 L594.7,264.9 L595.0,264.9 L594.9,262.1 L595.3,264.0 L595.2,259.4 L595.6,258.7 L595.8,258.2 L595.8,257.6 L596.1,255.8 L596.1,254.4 L596.3,253.0 L596.1,252.1 L596.2,250.4 L596.7,247.5 L597.0,247.0 L597.5,244.5 L597.5,243.3 L598.1,242.6 L598.1,240.4 L598.5,238.5 L598.5,239.9 L598.5,242.5 L598.7,242.7 L598.7,244.2 L599.1,247.4 L598.9,247.8 L598.9,248.1 L599.1,249.5 L598.9,252.8 L599.1,255.7 L599.5,256.9 L599.4,257.1 L599.6,260.5 L600.3,259.9 L600.2,259.8 L600.8,263.6 L601.3,266.5 L601.8,266.5 L601.8,268.0 L602.2,269.5 L602.4,268.9 L602.8,266.2 L603.3,264.8 L603.4,264.7 L603.6,261.0 L604.0,260.8 L604.2,259.8 L604.8,258.6 L604.8,258.6 L605.2,254.9 L605.3,255.5 L605.9,252.1 L605.9,249.1 L606.3,248.8 L607.4,249.4 L608.1,246.1 L608.2,247.5 L608.9,250.4 L609.4,251.5 L609.4,253.1 L609.7,253.0 L609.7,250.1 L610.0,250.0 L609.9,247.2 L610.3,247.5 L610.6,244.9 L610.2,244.6 L610.7,242.2 L610.8,240.2 L610.7,237.5 L610.9,239.4 L610.8,237.2 L611.1,235.1 L611.5,233.7 L611.8,231.4 L612.3,231.0 L612.3,229.8 L612.4,226.7 L612.7,227.8 L613.2,225.4 L613.2,222.2 L613.9,222.4 L614.1,221.1 L613.9,217.4 L614.4,218.6 L614.6,216.8 L615.0,214.4 L615.0,214.6 L615.6,215.8 L615.4,219.3 L615.6,220.3 L616.1,220.3 L616.4,223.9 L616.3,224.9 L616.2,225.6 L616.6,228.2 L617.1,231.4 L617.3,230.4 L617.2,233.9 L617.8,234.5 L618.1,235.6 L617.9,236.1 L618.1,239.5 L618.7,239.3 L618.9,241.5 L618.7,242.1 L619.0,244.0 L619.4,246.1 L619.6,246.6 L619.7,243.6 L620.2,242.1 L620.3,240.2 L621.1,237.7 L621.0,237.2 L621.5,236.4 L621.7,233.8 L622.0,232.6 L622.6,233.0 L623.2,229.5 L623.5,229.5 L623.6,229.5 L623.8,234.0 L624.5,234.0 L624.4,237.0 L624.9,236.7 L625.3,238.3 L625.6,239.2 L625.6,241.9 L626.1,243.3 L626.7,244.5 L627.7,246.1 L627.8,245.5 L628.4,244.9 L628.5,241.4 L628.8,241.0 L629.3,239.2 L629.3,242.2 L629.7,242.2 L630.1,242.8 L630.2,244.7 L630.2,247.0 L630.3,247.8 L630.9,248.4 L631.0,250.5 L631.1,251.1 L631.3,253.7 L631.5,255.7 L631.5,253.4 L631.9,251.9 L632.5,249.6 L632.6,248.6 L633.1,249.6 L633.5,247.9 L633.4,243.4 L633.9,243.3 L634.7,239.8 L635.1,240.8 L635.9,238.5 L638.0,239.2 L638.4,240.4 L638.4,243.1 L638.8,245.3 L639.0,246.0 L639.7,245.5 L639.9,249.6 L640.1,250.2 L640.6,249.7 L641.5,251.6 L642.5,254.3 L642.6,252.1 L642.7,249.6 L642.8,250.6 L643.2,249.9 L643.1,248.0 L643.5,245.4 L643.3,243.7 L643.9,244.2 L643.6,240.5 L644.1,241.4 L644.2,238.5 L644.5,238.2 L645.4,240.0 L646.0,242.0 L646.3,244.7 L646.3,247.1 L646.9,248.2 L647.5,249.8 L647.4,249.3 L647.9,253.4 L648.4,254.7 L648.9,255.3 L649.0,255.7 L649.3,254.9 L649.7,251.2 L649.9,251.3 L650.0,251.9 L650.2,249.9 L651.0,248.3 L651.1,246.1 L651.4,246.5 L651.8,250.7 L652.0,250.4 L652.4,249.8 L652.6,252.6 L653.1,254.3 L654.3,254.3 L655.9,255.7 L657.0,255.5 L658.0,253.7 L658.3,253.8 L658.9,256.2 L659.4,259.1 L660.0,258.6 L660.5,259.3 L660.5,260.2 L660.9,262.5 L661.1,264.9 L661.2,264.9 L661.4,268.2 L661.8,270.4 L661.7,269.3 L662.1,272.3 L662.2,273.4 L662.5,273.7 L663.1,275.9 L663.0,278.4 L663.5,279.5 L663.6,281.2 L664.1,283.4 L664.1,283.2 L664.9,288.5 L665.1,286.4 L665.4,291.6 L665.6,289.7 L665.7,292.6 L666.2,294.4 L666.1,293.1 L666.7,293.1 L667.1,290.5 L666.8,289.1 L667.0,286.0 L667.5,283.6 L667.6,284.1 L667.9,286.9 L668.5,285.8 L669.1,290.0 L669.4,288.8 L669.6,291.6 L670.3,291.6 L670.6,288.2 L671.2,288.8 L671.9,285.6 L672.4,284.7 L672.9,285.8 L672.6,286.8 L673.3,289.7 L673.6,292.2 L674.0,294.1 L673.9,294.0 L674.1,294.2 L674.5,297.1 L674.4,298.9 L674.6,300.8 L675.3,301.3 L674.9,301.4 L675.2,304.2 L675.3,306.9 L676.0,308.8 L675.9,310.0 L676.2,309.5 L676.3,311.9 L676.4,312.7 L676.9,315.4 L676.7,317.9 L677.0,316.9 L677.2,319.2 L677.4,317.9 L677.5,314.9 L678.0,313.9 L678.6,315.0 L678.9,313.1 L678.9,311.9 L678.9,309.8 L679.5,307.8 L679.7,304.7 L680.0,304.0 L680.3,307.2 L680.5,307.4 L681.2,307.5 L681.2,307.7 L681.7,311.6 L682.1,310.6 L682.4,313.2 L682.7,315.1 L683.0,313.2 L683.2,312.3 L683.3,309.0 L683.8,310.6 L684.2,306.0 L684.0,305.1 L684.3,304.7 L684.8,303.0 L685.0,300.4 L685.2,298.5 L685.5,298.5 L686.3,300.3 L687.6,301.3 L687.5,299.4 L688.2,298.0 L688.3,296.9 L688.1,296.2 L688.7,295.7 L689.0,290.6 L688.8,290.2 L689.2,291.0 L689.2,288.7 L689.6,286.1 L689.5,285.8 L689.9,282.1 L690.2,279.8 L690.2,279.1 L690.4,279.6 L690.7,278.9 L690.9,277.4 L691.2,276.1 L691.3,271.6 L691.5,270.9 L691.7,270.7 L691.6,267.1 L692.1,268.0 L691.8,266.5 L692.0,264.6 L692.4,262.7 L693.0,264.3 L693.5,263.9 L693.6,267.5 L694.2,267.0 L694.7,270.9 L694.8,269.4 L695.5,272.3 L695.9,269.2 L696.0,268.0 L696.3,266.9 L696.2,265.7 L696.6,266.1 L697.0,263.8 L696.7,263.3 L697.2,259.9 L697.2,257.9 L697.9,257.1 L697.7,256.8 L698.4,252.9 L698.4,253.5 L698.5,251.2 L698.9,251.2 L699.3,249.9 L699.3,245.3 L699.9,244.4 L699.9,244.1 L700.2,246.0 L701.0,245.8 L701.6,248.5 L702.1,249.7 L702.7,251.7 L703.3,248.3 L703.5,248.3 L704.5,247.4 L704.8,246.2 L705.6,243.0 L706.8,243.4 L706.9,242.6 L707.3,239.4 L707.5,237.8 L707.9,237.3 L707.6,237.6 L708.2,234.4 L708.4,234.1 L708.5,231.0 L708.8,233.1 L708.8,233.6 L709.4,236.9 L709.5,239.0 L709.8,238.0 L709.8,241.3 L710.0,242.4 L710.3,243.4 L710.6,245.0 L711.0,244.4 L711.8,246.8 L711.8,248.9 L712.1,249.3 L712.4,251.1 L713.0,253.1 L713.6,252.5 L713.7,255.6 L714.0,257.5 L714.2,257.2 L714.6,259.2 L715.1,262.2 L715.4,264.5 L715.8,264.1 L717.0,265.1 L717.9,261.0 L719.2,262.0 L719.7,263.8 L719.7,264.4 L719.9,266.1 L719.8,266.1 L719.9,270.9 L719.9,269.8 L720.2,270.9 L720.3,274.5 L720.6,275.1 L721.7,276.1 L723.1,277.9 L723.4,279.8 L723.2,281.4 L723.8,283.2 L723.3,284.2 L724.0,286.5 L723.6,286.1 L724.0,287.0 L724.2,291.2 L724.1,292.9 L724.5,292.0 L724.4,294.8 L724.5,296.4 L724.7,297.1 L724.9,296.9 L725.2,298.3 L725.3,301.0 L725.4,303.5 L725.4,304.5 L725.9,307.9 L725.8,309.6 L726.4,309.6 L726.2,310.0 L726.4,310.8 L726.8,313.7 L726.8,316.3 L727.2,318.1 L727.5,318.6 L727.7,320.2 L727.7,322.0 L727.8,324.1 L728.2,324.7 L728.5,327.0 L728.4,328.7 L728.9,330.2 L728.6,330.4 L729.1,332.1 L728.7,332.0 L729.2,334.9 L729.2,337.5 L729.3,339.9 L729.3,340.4 L729.5,339.0 L729.8,340.6 L729.8,344.0 L730.0,347.0 L730.3,346.7 L730.8,346.7 L731.6,349.5 L732.1,348.9 L731.7,345.1 L732.0,346.1 L732.4,345.4 L732.5,342.5 L732.7,341.7 L733.2,338.3 L733.3,335.9 L733.4,334.2 L733.7,334.1 L733.7,333.0 L733.9,329.7 L734.3,329.5 L734.2,330.1 L734.2,325.7 L734.4,324.4 L734.4,322.7 L734.9,323.3 L735.2,319.9 L735.1,319.2 L735.6,319.4 L736.3,320.6 L736.5,324.8 L737.1,324.7 L737.4,327.2 L737.3,326.8 L737.7,329.1 L737.7,329.3 L737.6,332.5 L738.0,333.9 L738.1,333.9 L738.2,336.0 L737.9,339.5 L738.5,341.0 L738.0,340.2 L738.7,340.9 L738.5,344.0 L738.9,340.5 L738.9,339.5 L738.6,337.8 L738.7,338.6 L739.3,335.7 L739.4,335.7 L739.0,335.2 L739.6,330.7 L739.2,331.0 L739.4,328.8 L739.5,327.0 L740.1,323.8 L740.2,323.5 L740.0,321.1 L740.1,319.7 L740.4,318.3 L740.5,316.7 L740.2,316.6 L740.6,315.1 L740.9,315.8 L741.1,319.5 L741.8,318.0 L741.9,322.1 L741.9,321.0 L742.1,322.4 L742.7,324.7 L742.8,324.4 L743.1,327.3 L742.9,328.7 L743.5,331.5 L743.6,332.4 L744.1,334.5 L744.1,336.7 L744.0,336.3 L744.6,337.9 L744.5,339.3 L744.7,341.2 L745.1,342.4 L745.5,346.3 L746.6,346.2 L747.0,346.3 L747.5,348.8 L747.6,346.8 L747.8,344.6 L748.5,345.7 L748.4,344.5 L748.8,342.2 L749.3,340.5 L749.5,338.5 L751.2,338.4 L752.3,339.8 L752.9,339.2 L753.1,344.0 L753.8,344.4 L754.0,344.3 L754.4,346.7 L754.5,346.3 L754.6,344.7 L754.9,342.5 L754.9,341.7 L755.3,340.1 L755.5,337.0 L755.8,335.8 L755.9,335.2 L755.9,333.9 L755.9,331.3 L756.3,332.7 L756.4,329.5 L756.6,331.0 L756.6,333.6 L757.1,332.5 L757.2,335.1 L757.5,338.0 L757.2,339.6 L757.8,339.1 L757.6,342.3 L757.8,341.0 L758.1,342.3 L758.3,346.5 L758.5,346.7 L758.9,347.9 L760.2,349.1 L760.5,351.7 L761.4,352.2 L761.9,353.6 L762.0,356.0 L762.5,357.1 L762.7,357.8 L763.0,358.6 L763.1,360.0 L763.8,360.7 L764.0,363.3 L764.5,365.1 L764.5,364.9 L764.7,369.1 L764.9,369.1 L765.0,372.7 L765.7,373.5 L765.6,373.4 L765.8,376.1 L766.1,378.8 L765.9,378.7 L766.2,380.5 L766.3,383.1 L766.7,383.4 L766.7,386.6 L767.0,386.4 L766.9,390.1 L767.2,389.9 L767.5,390.3 L767.6,386.3 L767.4,384.6 L767.8,384.8 L768.0,382.3 L768.3,382.3 L768.3,377.3 L768.4,377.5 L768.6,376.1 L768.7,376.0 L769.2,373.1 L769.1,371.5 L769.5,370.4 L769.6,369.6 L769.4,367.1 L769.9,366.7 L770.2,365.6 L770.0,361.6 L770.4,361.7 L770.8,361.4 L770.5,363.0 L771.0,367.0 L771.2,365.7 L771.3,369.8 L771.6,368.6 L771.7,371.5 L772.0,375.3 L772.0,374.7 L772.0,377.7 L772.5,377.1 L773.0,377.3 L772.7,379.9 L772.9,381.6 L773.3,385.3 L773.4,385.4 L773.6,385.1 L774.1,389.9 L774.1,389.9 L774.1,389.8 L774.1,385.7 L774.4,385.5 L774.7,383.7 L774.7,382.7 L774.8,382.0 L775.1,381.0 L775.1,376.0 L775.3,376.4 L775.5,374.7 L776.4,373.6 L777.6,372.0 L778.2,372.5 L778.7,373.9 L779.2,377.3 L779.6,377.5 L780.1,375.7 L780.3,374.1 L780.3,370.9 L780.3,371.6 L780.5,370.9 L781.0,367.9 L780.9,366.8 L781.3,366.7 L781.4,364.7 L781.7,362.8 L781.5,359.8 L781.6,360.5 L781.8,359.4 L781.9,354.7 L782.5,356.0 L782.4,353.4 L782.6,354.5 L783.0,355.3 L782.7,358.5 L783.2,357.4 L783.5,358.8 L783.3,361.2 L783.5,363.8 L783.6,365.2 L783.9,368.1 L784.2,367.9 L784.4,367.7 L785.3,366.0 L785.1,362.8 L785.8,361.7 L786.6,362.3 L787.2,362.8 L787.9,365.1 L788.2,365.1 L788.4,369.2 L788.5,370.5 L788.8,372.7 L789.7,374.7 L789.7,376.3 L789.9,376.1 L790.9,374.6 L792.0,374.7 L792.4,377.1 L792.6,379.2 L793.5,378.8 L793.7,380.6 L794.1,381.6 L794.8,379.1 L796.2,378.9 L796.8,378.9 L796.8,378.7 L796.9,377.5 L797.6,374.6 L797.8,372.1 L797.4,371.8 L797.8,368.9 L798.2,367.0 L798.2,366.5 L798.7,363.8 L798.6,362.9 L799.0,362.6 L799.8,361.2 L799.9,360.0 L800.3,358.2 L801.3,355.0 L802.3,355.5 L802.8,355.2 L803.2,356.7 L803.5,359.0 L803.8,361.6 L804.4,362.3 L805.0,362.4 L805.2,364.4 L805.3,368.0 L805.4,366.5 L805.7,370.8 L806.2,370.6 L806.5,372.0 L806.9,369.1 L807.4,367.9 L807.9,367.9 L808.0,369.4 L808.2,369.7 L808.3,371.2 L808.9,372.9 L809.1,375.4 L809.4,375.0 L809.5,378.4 L809.6,380.3 L809.9,380.4 L809.9,383.0 L810.8,383.0 L812.0,385.8 L814.1,386.5 L814.4,383.1 L814.8,383.5 L815.0,383.5 L815.6,380.7 L816.1,378.9 L816.6,377.9 L816.5,377.0 L817.1,373.7 L817.0,375.3 L817.7,372.5 L817.8,371.9 L818.2,369.2 L818.6,369.1 L818.7,368.2 L819.4,366.9 L819.6,363.4 L820.3,362.3 L820.6,359.8 L820.5,359.9 L820.7,357.0 L821.0,354.8 L821.7,353.8 L821.8,354.9 L821.9,351.3 L822.2,352.8 L822.7,355.5 L822.8,356.9 L823.1,356.2 L823.5,360.4 L823.7,358.9 L823.6,361.4 L824.2,365.4 L824.4,365.1 L824.5,364.7 L825.2,363.7 L825.4,362.6 L825.8,360.9 L825.8,358.6 L826.3,358.1 L826.5,355.5 L827.0,355.6 L827.9,354.5 L828.5,351.3 L828.4,351.6 L829.0,350.1 L829.2,345.7 L829.0,344.1 L829.1,343.5 L829.7,342.1 L829.7,341.4 L829.9,338.7 L829.9,337.6 L830.6,340.1 L831.2,342.1 L831.6,341.7 L831.7,339.9 L832.5,339.5 L832.7,336.9 L833.2,337.5 L833.3,334.8 L833.6,334.4 L833.7,336.0 L834.2,340.8 L834.5,341.5 L834.6,342.0 L835.3,343.7 L835.4,345.8 L836.0,344.9 L836.7,341.4 L837.5,341.7 L837.8,343.9 L838.3,345.1 L838.6,344.3 L839.0,345.4 L839.1,347.3 L839.5,349.9 L840.1,353.2 L840.9,352.7 L842.5,350.9 L843.7,351.3 L844.3,350.4 L844.4,348.1 L844.7,349.0 L844.9,347.8 L845.2,345.8 L845.7,343.1 L846.0,341.8 L847.1,339.0 L847.6,338.7 L847.9,336.6 L848.5,336.2 L848.8,336.2 L849.1,340.8 L849.6,340.4 L849.8,344.0 L850.0,342.3 L850.5,345.4 L850.6,347.2 L851.0,348.0 L851.2,350.5 L851.7,351.4 L851.9,354.3 L852.6,353.5 L852.6,355.5 L854.6,354.0 L856.1,356.1 L857.5,357.9 L858.8,358.2 L859.3,359.4 L859.7,362.5 L859.6,363.3 L860.2,363.7 L860.9,363.9 L862.3,367.4 L863.0,366.5 L863.7,366.4 L864.1,369.5 L865.2,370.2 L865.7,372.0 L866.3,373.9 L867.0,375.8 L867.7,376.3 L868.5,377.5 L869.9,379.1 L871.2,376.8 L871.9,379.5 L872.6,379.4 L873.0,382.2 L873.2,382.0 L874.0,384.4 L874.7,386.1 L875.0,388.3 L875.6,387.1 L876.0,391.4 L876.7,391.3 L877.6,393.6 L878.8,394.0 L878.8,394.9 L879.3,396.4 L880.0,400.6 L879.9,399.1 L880.1,403.7 L880.5,402.8 L880.9,405.1 L881.6,404.9 L882.5,407.8 L882.7,405.8 L882.9,406.5 L883.5,401.9 L883.7,401.3 L884.0,400.5 L883.8,397.6 L884.3,396.8 L884.6,399.2 L885.1,399.8 L885.2,401.9 L885.9,401.7 L885.9,403.8 L886.4,405.1 L887.2,407.0 L887.9,408.9 L889.1,409.2 L890.1,411.9 L891.2,411.4 L891.9,413.3 L892.3,413.8 L893.0,414.4 L893.5,418.5 L894.0,418.8 L895.2,417.8 L896.0,417.5 L896.2,417.3 L896.9,420.8 L897.0,422.1 L897.1,424.1 L897.6,426.1 L897.7,425.1 L898.1,427.1 L898.5,429.7 L899.2,428.6 L899.5,431.4 L900.2,433.3 L900.3,432.5 L900.8,435.4 L901.2,435.0 L901.9,438.1 L902.1,440.2 L902.5,440.5 L902.9,442.2 L903.5,442.7 L903.9,446.2 L904.3,445.0 L904.6,448.8 L905.0,449.1 L905.9,449.4 L906.5,447.4 L907.0,445.0 L908.3,444.9 L909.1,443.6 L909.5,443.7 L909.7,447.5 L909.6,447.4 L910.3,450.2 L910.2,450.5 L910.4,451.8 L911.2,455.2 L911.2,456.0 L912.1,458.6 L913.2,458.8 L913.5,461.1 L914.2,463.2 L914.9,461.4 L915.3,465.0 L915.3,462.1 L915.6,460.3 L916.0,460.8 L916.2,457.3 L916.0,456.1 L916.2,456.7 L916.6,454.1 L916.7,453.3 L917.0,450.7 L917.1,449.2 L917.1,450.1 L917.4,445.5 L917.3,444.1 L917.2,444.2 L917.7,443.5 L917.7,441.9 L917.9,440.1 L918.2,437.5 L918.3,439.2 L918.1,437.5 L918.1,436.2 L918.3,432.7 L918.7,431.1 L918.8,429.8 L919.1,432.1 L919.3,432.0 L919.7,433.6 L920.3,434.1 L920.5,436.7 L920.6,435.3 L920.9,432.6 L920.7,431.1 L921.1,431.1 L921.2,431.3 L921.5,429.7 L921.4,427.3 L921.2,423.2 L921.8,421.6 L921.7,422.9 L921.7,419.6 L921.9,417.8 L921.9,419.6 L921.9,414.3 L922.2,414.7 L923.9,416.1 L924.4,414.1 L924.4,414.5 L924.5,410.3 L925.2,409.2 L925.6,409.1 L925.6,407.8 L926.2,410.8 L926.5,410.5 L926.4,410.5 L927.0,413.6 L927.2,413.5 L927.7,416.1 L928.3,415.5 L928.7,419.7 L928.7,422.1 L929.0,422.5 L929.6,424.2 L929.8,424.3 L930.0,424.4 L930.9,426.3 L931.0,428.5 L931.8,430.5 L932.3,430.4 L932.2,427.4 L932.7,427.7 L932.9,422.9 L933.5,423.7 L933.7,421.6 L933.9,420.2 L934.4,420.4 L935.2,424.6 L936.0,424.3 L937.1,424.1 L938.0,427.1 L938.2,427.0 L938.8,429.7 L939.2,431.8 L939.2,432.4 L939.8,434.0 L940.1,433.5 L940.9,431.1 L941.5,429.8 L942.0,429.2 L942.4,426.1 L942.7,426.5 L943.4,422.9 L943.6,423.0 L943.5,424.9 L944.3,425.0 L944.2,426.5 L944.7,430.2 L944.8,431.2 L944.7,430.3 L945.3,435.6 L945.1,433.4 L945.6,436.7 L946.1,434.1 L946.2,432.5 L946.5,433.8 L946.5,432.2 L946.6,427.6 L946.9,428.5 L947.6,427.8 L947.7,424.3 L948.3,424.5 L948.5,425.7 L949.1,426.9 L949.6,431.4 L949.7,431.2 L950.5,427.9 L951.0,428.7 L951.4,427.1 L952.0,428.5 L952.6,430.2 L952.6,429.5 L953.3,432.8 L953.9,434.0 L953.8,435.1 L954.1,438.0 L954.8,439.9 L954.6,439.9 L954.9,442.2 L955.0,442.9 L955.5,446.6 L955.5,445.6 L955.9,447.8 L956.6,450.1 L956.5,451.9 L957.1,451.4 L957.4,454.3 L958.0,454.6 L959.3,453.7 L960.1,451.9 L960.3,454.3 L960.9,452.9 L961.7,456.8 L962.1,457.4 L962.6,458.9 L963.2,459.8 L963.9,462.1 L964.2,462.9 L964.7,462.5 L965.1,461.8 L965.0,459.6 L965.8,458.1 L966.2,455.7 L966.5,453.4 L966.7,453.0 L967.0,451.9 L967.2,452.3 L967.6,454.0 L968.0,454.4 L968.4,459.3 L968.8,460.5 L969.0,460.2 L969.7,460.1 L969.5,458.4 L970.0,456.0 L970.2,456.4 L970.3,456.9 L971.0,461.8 L971.0,461.6 L971.7,462.3 L972.3,465.5 L972.6,466.9 L973.1,467.1 L974.0,466.9 L974.5,469.2 L975.2,471.3 L975.4,472.3 L975.5,476.2 L976.0,476.1 L976.4,477.6 L976.7,478.7 L977.0,481.3 L976.8,480.5 L977.2,483.7 L977.6,481.4 L977.4,478.8 L977.9,480.2 L977.7,476.6 L978.0,477.2 L978.2,476.0 L978.0,472.5 L978.4,470.2 L978.3,469.5 L978.6,469.2 L979.0,472.6 L979.4,472.6 L979.7,474.1 L979.7,474.4 L980.0,474.9 L980.7,478.2 L981.5,476.2 L982.7,475.4 L983.4,472.5 L984.2,474.5 L984.8,471.3 L986.0,469.7 L986.9,469.9 L987.0,470.0 L987.5,471.9 L987.9,474.8 L988.0,476.3 L988.5,478.5 L988.9,478.2 L989.0,478.1 L989.5,476.7 L990.1,475.5 L990.2,473.3 L990.5,469.3 L991.0,469.9 L991.1,469.9 L991.6,467.4 L991.7,465.8 L991.9,462.2 L992.4,464.0 L992.8,461.1 L993.1,458.9 L993.0,456.2 L993.7,453.8 L993.9,452.7 L994.0,452.0 L994.2,449.6 L994.2,448.4 L994.4,447.9 L994.7,449.3 L995.7,449.6 L995.9,451.1 L996.5,453.4 L996.7,453.1 L997.0,449.4 L997.5,448.8 L997.9,448.4 L998.0,448.0 L998.6,445.1 L999.1,447.1 L998.9,446.8 L999.3,449.0 L999.9,450.5 L999.9,450.4 L1000.2,453.3 L1000.7,453.7 L1001.1,456.1 L1001.1,453.1 L1001.6,452.5 L1001.9,453.3 L1001.9,448.3 L1002.4,449.4 L1002.9,448.4 L1002.6,446.8 L1003.1,445.7 L1003.4,442.3 L1003.9,439.9 L1004.6,441.1 L1005.5,438.2 L1005.7,437.9 L1006.3,442.7 L1006.4,443.3 L1007.0,443.5 L1007.5,445.1 L1007.9,445.5 L1007.8,447.6 L1008.3,451.7 L1008.3,450.0 L1008.8,453.5 L1009.1,452.5 L1009.4,456.9 L1009.6,457.5 L1009.7,455.0 L1009.9,455.0 L1010.1,451.7 L1010.2,453.4 L1010.1,451.6 L1010.1,450.3 L1010.5,446.1 L1010.3,447.3 L1010.4,443.1 L1010.6,442.5 L1011.0,440.0 L1011.3,440.1 L1011.2,437.9 L1011.2,436.8 L1011.8,436.3 L1011.8,438.5 L1012.4,441.0 L1012.7,442.3 L1012.6,444.2 L1013.0,445.1 L1013.2,448.0 L1013.7,450.2 L1014.3,448.7 L1014.4,450.6 L1014.9,452.2 L1015.0,452.5 L1015.6,454.6 L1015.8,457.5 L1016.2,454.1 L1016.4,453.8 L1016.8,453.6 L1016.8,450.5 L1017.5,449.1 L1017.3,447.8 L1017.9,447.9 L1018.4,446.4 L1018.6,446.3 L1019.2,442.1 L1019.9,441.7 L1020.4,443.6 L1021.2,444.4 L1021.7,447.0 L1022.0,447.9 L1022.5,451.3 L1023.3,452.8 L1024.1,452.7 L1026.1,452.7 L1026.5,449.5 L1026.1,448.2 L1026.3,447.5 L1026.8,448.8 L1026.7,445.2 L1027.0,445.5 L1026.9,443.2 L1026.9,439.7 L1027.2,440.4 L1027.5,439.5 L1027.2,438.7 L1027.5,435.5 L1028.2,432.2 L1028.1,432.6 L1028.6,431.6 L1029.2,429.3 L1029.7,429.8 L1030.5,432.6 L1030.9,434.1 L1031.4,433.8 L1031.6,437.3 L1032.2,438.9 L1032.3,437.6 L1032.8,441.7 L1033.0,442.3 L1035.1,443.0 L1035.3,445.2 L1036.1,448.0 L1036.4,446.6 L1036.9,449.2 L1036.9,449.7 L1037.6,446.1 L1037.4,446.7 L1037.7,444.7 L1038.2,443.0 L1038.1,439.5 L1038.5,439.6 L1039.8,437.8 L1041.3,438.2 L1042.0,437.7 L1043.1,440.6 L1044.0,442.3 L1045.0,441.6 L1045.9,446.0 L1046.8,445.1 L1047.8,445.9 L1048.4,447.6 L1049.5,449.2 L1050.3,447.8 L1051.6,446.5 L1051.8,445.8 L1052.6,443.2 L1052.8,443.4 L1053.1,441.5 L1053.6,440.4 L1053.7,438.2 L1054.1,435.5 L1054.0,434.3 L1054.5,434.9 L1054.9,433.4 L1054.8,430.8 L1055.2,427.0 L1055.3,428.3 L1055.7,425.8 L1055.8,422.6 L1056.5,421.5 L1056.6,419.4 L1057.2,418.9 L1057.2,420.3 L1057.8,416.9 L1058.8,416.7 L1059.0,421.5 L1059.9,421.0 L1060.6,421.9 L1061.2,423.5 L1061.9,425.8 L1062.3,427.1 L1062.7,426.8 L1063.2,428.6 L1064.0,431.3 L1064.8,433.0 L1065.6,432.7 L1066.1,434.8 L1066.7,434.5 L1067.3,432.4 L1068.1,431.3 L1070.2,430.6 L1072.3,431.3 L1072.6,434.4 L1072.7,432.3 L1073.1,436.2 L1073.3,437.7 L1073.9,439.4 L1074.1,438.0 L1074.3,441.0 L1075.2,441.1 L1075.9,444.9 L1076.4,445.1 L1076.9,445.6 L1077.8,449.0 L1078.5,449.9 L1079.0,446.9 L1079.6,447.0 L1080.5,445.1 L1081.4,444.6 L1082.6,443.0 L1083.1,443.3 L1083.8,445.6 L1084.4,444.9 L1084.7,446.9 L1085.4,449.2 L1086.4,448.6 L1087.4,447.4 L1088.1,445.8 L1088.4,443.1 L1088.8,443.4 L1089.2,439.9 L1090.0,440.8 L1090.2,438.2 L1090.8,437.7 L1090.8,436.6 L1091.4,433.3 L1091.7,430.9 L1092.0,431.3 L1092.2,431.1 L1092.7,434.1 L1093.6,437.2 L1093.7,436.7 L1094.3,438.2 L1094.7,438.1 L1095.1,441.1 L1095.6,443.2 L1095.7,444.8 L1096.4,445.1 L1097.3,442.7 L1098.4,443.7 L1098.7,445.0 L1099.1,447.2 L1099.7,447.1 L1100.3,450.1 L1100.5,450.6 L1101.2,451.5 L1102.2,455.1 L1102.6,454.7 L1103.4,454.5 L1104.6,453.4 L1106.7,452.7 L1107.3,454.1 L1107.5,454.9 L1108.5,459.3 L1108.8,458.9 L1109.3,458.8 L1109.7,462.1 L1110.5,461.3 L1110.8,464.4 L1111.2,464.1 L1111.5,460.0 L1112.2,458.6 L1112.2,457.1 L1112.6,457.5 L1112.7,460.0 L1113.0,458.7 L1113.6,460.3 L1113.8,464.3 L1114.3,464.4 L1114.7,464.5 L1114.8,466.8 L1115.0,467.0 L1115.2,471.8 L1115.9,470.3 L1116.3,474.2 L1116.4,474.0 L1117.0,472.5 L1117.1,471.7 L1117.7,469.8 L1117.8,469.5 L1118.4,467.1 L1119.6,466.8 L1120.4,467.4 L1121.2,469.9 L1121.5,470.6 L1122.2,471.7 L1122.5,476.0 L1123.2,475.4 L1123.5,478.2 L1124.2,476.9 L1124.3,478.9 L1125.1,480.6 L1125.3,482.3 L1125.9,485.1 L1126.5,483.1 L1127.1,486.9 L1127.4,487.8 L1128.0,491.0 L1128.9,492.0 L1129.4,491.9 L1129.7,489.6 L1130.0,488.7 L1130.2,487.3 L1131.0,485.3 L1131.1,485.1 L1131.4,486.3 L1131.8,489.8 L1132.1,488.8 L1132.4,492.6 L1132.5,493.8 L1132.5,495.8 L1132.9,496.1 L1133.1,498.1 L1133.3,500.2 L1133.7,500.4 L1134.0,502.9 L1134.6,504.3 L1134.4,505.9 L1135.0,505.7 L1135.4,509.0 L1135.6,509.5 L1136.0,508.6 L1136.0,512.1 L1136.4,512.8 L1136.7,516.1 L1136.7,515.4 L1137.0,518.1 L1137.8,516.4 L1139.1,516.7 L1138.9,514.5 L1139.2,514.9 L1139.2,510.5 L1139.5,511.6 L1139.7,509.0 L1140.2,508.9 L1140.1,505.4 L1140.2,506.2 L1140.5,504.7 L1140.5,501.6 L1141.0,502.2 L1140.9,504.6 L1141.7,506.1 L1141.8,507.2 L1142.4,508.1 L1142.5,509.8 L1142.6,509.1 L1143.0,506.5 L1143.5,507.6 L1144.0,502.8 L1144.1,501.1 L1144.4,501.3 L1144.6,500.2 L1144.7,498.5 L1145.5,497.5 L1145.5,497.2 L1146.1,493.6 L1146.1,494.5 L1147.0,493.5 L1146.9,490.3 L1147.4,489.2 L1148.3,491.4 L1148.6,490.7 L1149.6,492.6 L1150.1,494.7 L1150.8,492.1 L1151.6,491.9 L1152.4,489.1 L1152.9,489.2 L1153.8,490.3 L1154.5,488.5 L1155.6,486.4 L1156.7,486.7 L1157.7,483.7 L1158.1,486.2 L1158.4,486.2 L1158.1,487.1 L1158.8,489.8 L1159.1,492.9 L1159.3,492.9 L1159.1,494.6 L1159.7,496.4 L1159.7,497.5 L1160.7,498.5 L1161.5,499.2 L1162.5,501.6 L1162.7,502.7 L1162.6,504.3 L1162.9,503.9 L1163.3,508.2 L1163.2,507.7 L1163.3,510.3 L1164.0,512.0 L1163.9,511.9 L1164.2,515.4 L1164.4,516.8 L1164.6,516.5 L1164.6,518.8 L1164.4,519.1 L1164.8,517.7 L1164.7,512.8 L1165.1,514.2 L1165.1,510.1 L1165.6,510.6 L1165.5,508.0 L1165.3,506.2 L1165.6,504.4 L1165.6,504.7 L1165.7,501.5 L1165.8,499.7 L1166.1,499.2 L1166.2,497.2 L1166.6,496.8 L1166.7,495.5 L1166.3,494.0 L1166.6,492.6 L1166.8,494.5 L1167.2,494.3 L1168.2,498.0 L1168.2,498.3 L1168.7,500.2 L1169.0,498.5 L1169.3,498.2 L1170.0,494.7 L1170.1,494.7 L1170.1,496.5 L1170.8,499.1 L1171.0,498.7 L1171.1,502.4 L1171.3,502.0 L1171.8,504.0 L1172.3,506.2 L1172.2,505.4 L1172.7,509.7 L1172.8,509.8 L1173.6,508.8 L1174.5,506.5 L1174.9,505.7 L1175.9,504.5 L1177.0,503.0 L1176.9,500.2 L1177.5,501.5 L1177.3,496.5 L1177.6,496.8 L1178.0,494.8 L1177.9,493.2 L1178.1,494.0 L1178.1,490.6 L1178.3,489.2 L1178.6,490.3 L1178.6,493.4 L1178.8,493.3 L1179.3,494.8 L1179.1,497.0 L1179.6,497.7 L1179.7,498.5 L1179.6,499.5 L1180.0,503.0 L1181.4,499.8 L1182.4,500.2 L1182.8,500.2 L1183.3,501.2 L1184.1,505.3 L1184.5,505.7 L1185.4,506.0" fill="none" stroke="#0d3a42" stroke-width="3.0" stroke-linejoin="round" stroke-linecap="round"/>
<path d="M1185.4,506.0 L1186.1,503.2 L1186.5,501.6 L1187.7,499.0 L1188.2,499.5 L1189.3,498.8 L1190.2,501.2 L1190.4,501.1 L1191.4,503.0 L1192.4,505.8 L1193.5,506.1 L1194.1,507.1 L1194.5,506.6 L1195.2,508.3 L1196.3,512.1 L1196.9,512.6 L1197.6,510.1 L1198.8,509.5 L1199.6,509.8 L1201.3,511.2 L1202.4,511.2 L1203.7,511.7 L1204.4,513.3 L1205.1,511.4 L1205.7,509.1 L1206.5,508.5 L1208.0,509.5 L1208.6,507.5 L1209.9,505.7 L1210.3,503.1 L1211.1,502.4 L1211.5,499.8 L1212.0,500.2 L1212.0,499.4 L1212.8,496.8 L1212.9,495.8 L1213.3,495.4 L1213.4,491.7 L1214.0,492.5 L1214.1,489.2 L1215.0,491.8 L1215.7,489.6 L1216.8,491.9 L1218.0,492.5 L1218.9,494.0 L1219.8,490.4 L1220.3,491.9 L1221.0,489.2 L1222.1,485.8 L1222.9,486.1 L1223.7,485.1 L1224.4,483.8 L1225.0,481.6 L1225.5,482.2 L1225.8,478.9 L1226.4,480.9 L1227.0,481.6 L1227.9,483.7 L1228.7,486.9 L1229.4,488.0 L1229.9,488.5 L1230.3,489.1 L1230.6,485.0 L1230.8,483.4 L1231.2,481.6 L1231.3,481.6 L1231.5,483.0 L1231.6,486.3 L1232.3,487.8 L1232.6,486.1 L1233.0,489.3 L1233.0,490.8 L1233.4,491.9 L1233.5,495.1 L1233.9,495.8 L1234.3,495.2 L1234.9,498.9 L1235.2,499.7 L1235.8,501.1 L1236.1,501.6 L1237.5,501.0 L1238.9,503.7 L1239.1,503.0 L1239.4,501.3 L1240.2,498.7 L1240.6,499.5 L1240.6,495.9 L1240.9,494.7 L1241.5,494.6 L1242.0,491.8 L1242.4,490.2 L1242.3,489.1 L1242.7,488.8 L1243.0,487.1 L1243.7,485.1 L1244.2,485.6 L1244.5,483.3 L1245.2,481.5 L1245.8,479.5 L1247.0,477.5 L1247.8,477.5 L1248.2,477.1 L1248.7,478.8 L1248.6,483.5 L1249.2,483.3 L1249.7,485.8 L1249.9,486.4 L1250.6,487.2 L1250.5,487.9 L1250.9,491.8 L1251.5,490.7 L1251.7,492.7 L1252.2,496.4 L1252.7,496.1 L1253.9,497.2 L1255.4,496.1 L1255.4,496.2 L1255.9,494.7 L1256.1,493.4 L1256.2,490.6 L1256.3,490.0 L1256.8,485.5 L1256.8,486.8 L1256.8,485.0 L1257.3,482.4 L1257.5,482.9 L1257.5,479.5 L1257.9,476.6 L1258.1,476.7 L1258.3,473.6 L1258.9,473.3 L1260.2,472.9 L1261.6,472.7 L1261.6,470.3 L1262.0,469.9 L1261.7,468.6 L1261.9,468.3 L1262.1,465.3 L1262.2,463.8 L1262.3,462.4 L1262.3,460.9 L1262.4,459.4 L1262.5,458.0 L1262.6,456.5 L1262.7,455.0 L1262.8,453.6 L1262.9,452.1 L1263.0,450.6 L1263.7,452.0 L1264.4,453.4 L1265.1,454.7 L1265.2,456.2 L1265.3,457.7 L1265.3,459.2 L1265.4,460.7 L1265.5,462.1 L1265.6,463.6 L1265.7,465.1 L1265.8,466.6 L1265.9,468.0 L1266.0,469.5 L1266.1,471.0 L1266.2,472.5 L1266.3,473.9 L1266.4,475.4 L1266.5,473.9 L1266.6,472.4 L1266.6,470.8 L1266.7,469.3 L1266.8,467.8 L1266.9,466.3 L1266.9,464.8 L1267.0,463.2 L1267.1,461.7 L1267.1,460.2 L1267.2,458.7 L1267.3,457.2 L1267.4,455.6 L1267.4,454.1 L1267.5,452.6 L1267.6,451.1 L1267.6,449.6 L1267.7,448.0 L1267.8,446.5 L1267.9,445.0 L1267.9,443.5 L1268.0,442.0 L1268.1,440.4 L1268.1,438.9 L1268.2,437.4 L1268.3,435.9 L1268.4,434.4 L1268.4,432.8 L1268.5,431.3 L1270.6,431.3 L1270.7,429.8 L1270.7,428.3 L1270.8,426.8 L1270.9,425.4 L1271.0,423.9 L1271.1,422.4 L1271.2,420.9 L1271.3,419.4 L1271.4,417.9 L1271.5,416.4 L1271.6,414.9 L1271.6,413.4 L1271.7,411.9 L1271.8,410.4 L1271.9,408.9 L1272.0,407.4 L1272.1,405.9 L1272.4,404.5 L1272.7,403.1 L1272.9,401.7 L1273.2,400.3 L1273.5,398.9 L1273.8,397.5 L1274.1,396.1 L1274.3,394.7 L1274.6,393.3 L1274.9,391.9 L1275.2,393.3 L1275.5,394.7 L1275.7,396.1 L1276.0,397.5 L1276.3,398.9 L1276.6,400.3 L1276.9,401.7 L1277.1,403.1 L1277.4,404.5 L1277.7,405.9 L1277.8,404.4 L1277.8,402.9 L1277.9,401.3 L1278.0,399.8 L1278.0,398.3 L1278.1,396.7 L1278.2,395.2 L1278.2,393.7 L1278.3,392.2 L1278.3,390.6 L1278.4,389.1 L1278.5,387.6 L1278.5,386.0 L1278.6,384.5 L1278.7,383.0 L1278.7,381.4 L1278.8,379.9 L1278.9,378.4 L1278.9,376.8 L1279.0,375.3 L1279.0,373.8 L1279.1,372.3 L1279.3,370.7 L1279.5,369.2 L1279.7,367.7 L1279.9,366.1 L1280.1,364.6 L1280.3,363.1 L1280.5,361.5 L1280.6,360.0 L1280.8,358.5 L1281.0,356.9 L1281.2,355.4 L1281.3,356.9 L1281.5,358.4 L1281.6,359.9 L1281.7,361.4 L1281.9,362.9 L1282.0,364.4 L1282.1,365.9 L1282.3,367.3 L1282.4,368.8 L1282.5,370.3 L1282.7,371.8 L1282.8,373.3 L1282.9,374.8 L1283.1,376.3 L1283.2,377.8 L1283.3,379.3 L1283.6,380.8 L1283.8,382.4 L1284.0,383.9 L1284.3,385.5 L1284.5,387.1 L1284.7,388.6 L1285.0,390.2 L1285.2,391.7 L1285.4,393.3 L1285.5,394.8 L1285.6,396.3 L1285.7,397.8 L1285.8,399.3 L1285.9,400.8 L1286.0,402.3 L1286.1,403.8 L1286.2,405.3 L1286.3,406.8 L1286.4,408.3 L1286.5,409.8 L1286.6,411.3 L1286.7,412.8 L1286.8,414.3 L1287.1,412.8 L1287.3,411.3 L1287.6,409.8 L1287.8,408.2 L1288.1,406.7 L1288.4,405.2 L1288.6,403.6 L1288.9,402.1 L1289.1,400.6 L1289.4,399.0 L1289.6,397.5 L1289.8,396.0 L1289.9,394.5 L1290.1,393.0 L1290.2,391.5 L1290.3,390.0 L1290.5,388.5 L1290.6,387.0 L1290.8,385.5 L1290.9,384.0 L1291.0,382.5 L1291.2,381.0 L1291.3,379.6 L1291.5,378.1 L1291.6,376.6 L1291.7,375.1 L1291.9,373.6 L1292.0,372.1 L1292.1,370.6 L1292.2,369.1 L1292.4,367.6 L1292.5,366.1 L1292.6,364.7 L1292.7,363.2 L1292.9,361.7 L1293.0,360.2 L1293.1,358.7 L1293.2,357.2 L1293.3,355.7 L1293.5,354.3 L1293.6,352.8 L1293.7,351.3 L1293.8,349.8 L1294.0,348.3 L1294.1,346.8 L1294.2,345.4 L1294.3,343.9 L1294.4,342.4 L1294.5,340.9 L1294.7,339.4 L1294.8,338.0 L1294.9,336.5 L1295.0,335.0 L1295.1,333.5 L1295.2,332.0 L1295.4,330.5 L1295.5,329.1 L1295.6,327.6 L1295.7,326.1 L1295.8,324.6 L1295.9,323.1 L1296.2,321.7 L1296.4,320.2 L1296.6,318.7 L1296.8,317.2 L1297.0,315.8 L1297.2,314.3 L1297.4,312.8 L1297.6,311.4 L1297.8,309.9 L1298.1,308.4" fill="none" stroke="#0d3a42" stroke-width="2.2" stroke-linejoin="round" stroke-linecap="round"/>
<path d="M131.6,704.7 L136.0,667.5 L148.4,824.6 L152.0,790.1 L155.3,805.3 L157.5,814.9 L160.8,819.1 L163.6,843.9 L165.8,856.3 L168.5,849.4 L171.3,860.4 L174.0,883.8 L177.3,864.5 L179.5,887.9 L182.3,907.2 L185.1,916.9 L189.7,905.8 L192.5,887.9 L195.2,879.7 L198.0,857.6 L201.6,827.3 L204.3,797.0 L206.8,786.0 L210.4,802.5 L213.2,832.8 L215.9,860.4 L218.7,876.9 L221.4,874.2 L224.2,893.4 L226.9,908.6 L229.1,896.2 L231.1,854.9 L233.0,821.8 L235.7,794.3 L238.5,783.3 L241.3,781.9 L243.5,787.4 L245.7,775.0 L248.1,768.7 L250.3,780.5 L252.5,797.0 L255.9,795.6 L257.8,810.8 L260.0,830.1 L262.7,843.9 L265.5,868.7 L268.3,893.4 L271.0,907.2 L274.3,904.5 L276.5,874.2 L278.7,848.0 L281.5,854.9 L284.8,874.2 L288.1,887.9 L291.7,904.5 L295.2,918.2 L297.2,915.5 L299.1,887.9 L301.9,875.5 L304.1,879.7 L306.3,910.0 L309.6,926.5 L312.3,915.5 L314.5,887.9 L316.5,832.8 L317.8,794.3 L320.0,766.7 L322.0,757.1 L324.2,769.5 L326.7,788.8 L329.4,783.3 L333.0,792.9 L335.7,784.6 L338.5,788.8 L341.3,805.3 L344.6,819.1 L347.6,841.1 L349.8,848.0 L352.3,827.3 L355.0,794.3 L357.8,764.0 L359.7,741.9 L361.9,736.4 L364.1,750.2 L366.9,769.5 L369.6,794.3 L372.4,816.3 L375.1,824.6 L377.9,843.9 L381.2,859.0 L386.2,868.7 L390.8,863.1 L395.0,852.1 L397.7,838.3 L399.7,810.8 L401.9,803.9 L404.1,819.1 L406.5,843.9 L409.3,879.7 L412.1,903.1 L414.8,887.9 L417.0,868.7 L419.8,859.0 L422.7,866.6 L425.5,852.8 L428.2,836.3 L431.0,814.3 L433.5,803.3 L436.5,817.0 L439.8,839.1 L443.4,852.8 L446.7,841.8 L449.4,825.3 L452.2,814.3 L454.9,784.0 L456.9,761.9 L459.1,753.7 L461.3,763.3 L463.2,771.6 L466.0,772.9 L468.7,792.2 L471.5,811.5 L474.2,836.3 L477.0,858.3 L478.9,866.6 L482.5,854.2 L486.1,859.7 L488.8,850.1 L491.6,833.6 L494.3,808.8 L497.6,796.4 L499.8,814.3 L501.8,839.1 L503.7,850.1 L507.3,844.6 L510.0,836.3 L512.0,808.8 L513.6,781.2 L516.1,770.2 L518.3,781.2 L521.1,811.5 L523.8,847.3 L525.7,866.6 L527.9,869.4 L530.7,857.0 L533.5,858.3 L535.7,874.9 L538.1,883.1 L541.2,872.1 L544.5,872.1 L547.2,877.6 L550.0,862.5 L552.7,872.1 L554.9,863.9 L556.9,825.3 L559.6,808.8 L562.9,803.3 L565.1,789.5 L567.3,779.8 L569.8,795.0 L573.4,797.7 L575.6,819.8 L577.5,847.3 L579.7,863.9 L582.5,868.0 L586.3,865.2 L588.6,885.9 L590.8,919.0 L592.7,949.3 L594.1,956.1 L596.3,935.5 L598.2,902.4 L600.1,872.1 L602.9,852.8 L605.1,830.8 L607.8,822.5 L610.6,832.2 L612.8,803.3 L614.7,770.2 L616.9,766.1 L618.9,781.2 L621.1,803.3 L624.4,806.0 L627.1,817.0 L629.3,830.8 L632.1,819.8 L635.4,830.8 L638.1,814.3 L640.3,800.5 L643.1,806.0 L645.0,775.7 L647.2,757.8 L649.2,781.2 L651.9,795.0 L655.2,786.7 L657.4,795.0 L659.6,778.5 L661.0,774.3 L662.9,797.7 L665.1,830.8 L667.1,847.3 L669.8,847.3 L672.6,852.8 L675.3,850.1 L678.1,872.1 L679.5,880.4 L682.2,870.7 L685.0,872.1 L687.7,852.8 L690.5,817.0 L692.7,784.0 L695.4,764.7 L698.2,756.4 L701.0,746.8 L703.4,753.7 L705.6,772.9 L707.6,778.5 L709.8,770.2 L711.9,775.7 L713.8,800.5 L716.0,811.0 L718.2,812.9 L720.2,828.0 L722.9,836.3 L725.7,861.1 L728.4,885.9 L730.3,902.4 L732.5,906.6 L734.8,885.9 L736.7,850.1 L739.4,847.3 L742.7,839.1 L744.9,852.8 L747.7,872.1 L749.9,888.7 L752.4,877.6 L754.6,872.1 L756.8,874.9 L758.7,852.8 L760.9,847.3 L763.4,863.9 L765.6,885.9 L767.8,899.7 L770.0,906.6 L772.5,896.9 L775.2,894.2 L778.0,874.9 L780.2,852.8 L782.7,848.7 L785.4,855.6 L789.0,857.0 L791.8,874.9 L794.5,892.8 L797.3,888.7 L799.5,855.6 L802.0,833.6 L804.7,822.5 L807.5,830.8 L810.2,850.1 L813.0,874.9 L815.7,883.1 L817.9,863.9 L820.2,822.5 L822.9,797.7 L825.7,778.5 L829.0,777.1 L831.2,764.7 L833.1,759.2 L835.9,770.2 L838.6,781.2 L841.9,789.5 L845.5,788.1 L848.3,775.7 L850.5,771.6 L852.4,786.7 L855.1,804.6 L858.7,810.1 L862.0,817.0 L864.2,818.4 L866.2,811.5 L868.4,825.3 L870.3,840.4 L873.0,839.1 L875.8,837.7 L878.6,847.3 L881.3,863.9 L883.5,876.3 L885.4,866.6 L888.2,865.2 L891.8,866.6 L895.1,862.5 L897.8,872.1 L901.1,874.9 L903.3,880.4 L906.1,890.0 L908.9,877.6 L911.6,872.1 L914.4,876.3 L916.6,863.9 L918.5,839.1 L920.7,817.0 L924.0,803.3 L926.2,784.0 L928.1,779.0 L930.3,792.2 L932.3,822.5 L935.0,830.8 L937.8,833.6 L939.7,841.8 L941.9,847.3 L944.1,836.3 L946.0,825.3 L948.8,826.7 L951.6,825.3 L954.3,825.3 L956.2,844.6 L958.4,861.1 L960.4,866.6 L962.6,858.3 L965.3,855.6 L968.1,850.1 L970.8,843.2 L973.6,850.1 L975.5,869.4 L977.7,885.9 L980.5,892.0 L983.8,890.0 L986.5,880.4 L989.3,869.4 L992.1,861.1 L994.3,836.3 L996.5,808.8 L999.2,786.7 L1002.0,772.9 L1006.0,763.0 L1008.8,772.6 L1011.0,780.9 L1013.7,778.2 L1015.7,800.2 L1017.6,825.0 L1019.8,831.9 L1022.0,827.7 L1023.9,841.5 L1026.1,851.2 L1028.6,827.7 L1030.8,808.5 L1033.6,816.7 L1036.3,827.7 L1039.1,827.2 L1043.2,825.0 L1046.0,816.7 L1048.7,819.5 L1050.9,829.1 L1053.4,822.2 L1056.2,800.2 L1058.9,772.6 L1061.1,754.7 L1063.3,753.4 L1065.2,764.4 L1067.2,774.0 L1070.8,775.4 L1073.5,775.4 L1076.3,785.0 L1079.0,794.1 L1081.8,794.7 L1084.5,780.9 L1086.5,769.9 L1088.7,765.8 L1090.9,753.4 L1092.8,732.7 L1094.7,734.1 L1096.9,749.2 L1099.1,758.9 L1101.1,772.6 L1103.0,791.9 L1105.2,805.7 L1107.9,815.3 L1111.3,821.7 L1114.8,812.6 L1116.8,819.5 L1119.0,825.0 L1121.7,812.6 L1124.5,811.2 L1126.7,820.9 L1129.2,829.1 L1131.4,834.6 L1133.6,844.3 L1134.9,882.8 L1135.5,937.9 L1136.0,980.6 L1137.1,937.9 L1138.3,882.8 L1139.1,827.7 L1139.6,797.4 L1141.0,819.5 L1143.8,825.0 L1146.0,830.5 L1147.9,819.5 L1149.8,805.7 L1152.0,802.4 L1154.8,804.3 L1157.0,799.6 L1158.9,805.7 L1161.7,822.2 L1164.4,838.8 L1166.6,855.3 L1169.1,854.7 L1171.9,852.5 L1174.1,853.9 L1176.3,838.8 L1178.2,825.5 L1180.4,825.0 L1182.3,836.0 L1185.1,841.5 L1187.8,837.4 L1190.6,835.5 L1193.3,840.1 L1196.1,845.6 L1198.3,849.8 L1201.1,842.9 L1203.8,844.3 L1205.7,847.0 L1208.5,841.5 L1211.3,830.5 L1214.0,822.2 L1216.2,800.2 L1218.7,791.4 L1222.3,794.1 L1226.4,796.1 L1229.2,808.5 L1231.4,812.6 L1234.1,811.2 L1236.0,827.7 L1238.3,842.1 L1240.2,842.9 L1242.4,830.5 L1244.3,818.1 L1247.1,808.5 L1249.8,786.4 L1252.0,779.5 L1254.5,785.0 L1256.7,791.4 L1259.5,783.7 L1261.7,772.6 L1263.6,757.5 L1265.8,749.2 L1267.7,750.6 L1269.9,736.8 L1271.9,729.9 L1273.2,758.9 L1274.4,704.4 L1276.0,646.5 L1277.5,584.7 L1278.9,627.2 L1280.2,662.0 L1281.8,646.5 L1283.3,650.4 L1285.3,675.5 L1287.2,723.7 L1288.7,739.2 L1290.7,723.7 L1293.4,694.8 L1295.7,665.8 L1297.6,638.8" fill="none" stroke="#0d3a42" stroke-width="2.5" stroke-linejoin="round" stroke-linecap="round"/>
<circle cx="1295.8" cy="624.3" r="64.2" fill="none" stroke="#0d3a42" stroke-width="3.2"/>
<path d="M1259.6,290.3 L1261.5,289.0 L1263.4,287.9 L1265.3,286.8 L1267.3,285.7 L1269.3,284.8 L1271.4,283.9 L1273.5,283.1 L1275.6,282.4 L1277.7,281.8 L1279.9,281.3 L1282.1,280.9 L1284.2,280.6 L1286.4,280.4 L1288.6,280.4 L1290.8,280.4 L1292.9,280.6 L1295.1,280.9 L1297.2,281.3 L1299.4,281.8 L1301.5,282.5 L1303.5,283.4 L1305.6,284.3 L1307.6,285.5 L1309.6,286.8 L1311.6,288.2 L1313.5,289.8 L1315.4,291.6 L1317.3,293.6 L1319.1,295.8 L1320.8,298.1 L1322.6,300.7 L1324.2,303.5 L1325.8,306.5 L1327.3,309.7 L1328.8,313.1 L1330.1,316.7 L1331.4,320.6 L1332.6,324.8 L1333.8,329.2 L1334.8,333.8 L1342.4,332.2 L1341.3,327.3 L1340.1,322.7 L1338.7,318.3 L1337.3,314.2 L1335.7,310.2 L1334.1,306.5 L1332.4,303.1 L1330.6,299.8 L1328.7,296.7 L1326.7,293.9 L1324.7,291.3 L1322.6,288.8 L1320.4,286.6 L1318.1,284.5 L1315.8,282.7 L1313.5,281.0 L1311.1,279.6 L1308.7,278.3 L1306.2,277.2 L1303.7,276.2 L1301.2,275.4 L1298.6,274.8 L1296.1,274.4 L1293.6,274.1 L1291.0,274.0 L1288.5,274.0 L1286.0,274.1 L1283.5,274.4 L1281.0,274.8 L1278.6,275.3 L1276.1,275.9 L1273.8,276.7 L1271.4,277.5 L1269.1,278.4 L1266.8,279.4 L1264.6,280.5 L1262.5,281.7 L1260.4,283.0 L1258.3,284.3 L1256.4,285.7 Z" fill="#0d3a42"/>
<path d="M1323.2,330.3 L1338.5,331.6 L1352.1,322.7 L1348.5,364.8 Z" fill="#0d3a42"/>
<text x="731" y="90.3" font-family="Liberation Sans, sans-serif" font-size="22.5" font-weight="normal" fill="#0d3a42" text-anchor="start" textLength="124" lengthAdjust="spacingAndGlyphs"  stroke="#0d3a42" stroke-width="1.0" stroke-linejoin="round">GERMANY:</text>
<text x="731" y="122.3" font-family="Liberation Sans, sans-serif" font-size="22.5" font-weight="normal" fill="#0d3a42" text-anchor="start" textLength="248" lengthAdjust="spacingAndGlyphs"  stroke="#0d3a42" stroke-width="1.0" stroke-linejoin="round">10-YEAR BUND YIELD</text>
<text font-family="Liberation Sans, sans-serif" fill="#0d3a42" stroke="#0d3a42" stroke-linejoin="round"><tspan x="225.6" y="566.3" font-size="22.5" stroke-width="1.0" textLength="566" lengthAdjust="spacingAndGlyphs">BUND YIELD COMPOSITE TECHNICAL INDICATOR</tspan><tspan x="792.5" y="557" font-size="11" stroke-width="0.5">*</tspan></text>
<text x="673.6" y="698.6" font-family="Liberation Sans, sans-serif" font-size="18.5" font-weight="normal" fill="#0d3a42" text-anchor="start" textLength="148.5" lengthAdjust="spacingAndGlyphs"  stroke="#0d3a42" stroke-width="0.7" stroke-linejoin="round">Bunds Oversold</text>
<text x="746.6" y="960" font-family="Liberation Sans, sans-serif" font-size="18.5" font-weight="normal" fill="#0d3a42" text-anchor="start" textLength="58" lengthAdjust="spacingAndGlyphs"  stroke="#0d3a42" stroke-width="0.7" stroke-linejoin="round">Bunds</text>
<text x="746.6" y="992" font-family="Liberation Sans, sans-serif" font-size="18.5" font-weight="normal" fill="#0d3a42" text-anchor="start" textLength="113" lengthAdjust="spacingAndGlyphs"  stroke="#0d3a42" stroke-width="0.7" stroke-linejoin="round">Overbought</text>
<text font-family="Liberation Sans, sans-serif" fill="#0d3a42" stroke="#0d3a42" stroke-linejoin="round"><tspan x="132.5" y="1114" font-size="11" stroke-width="0.5">*</tspan> <tspan x="143.6" y="1120.6" font-size="19.2" stroke-width="0.85" textLength="526.5" lengthAdjust="spacingAndGlyphs">BASED ON MOMENTUM, POSITIONING AND SENTIMENT.</tspan></text>
<text x="97.5" y="66.5" font-family="Liberation Sans, sans-serif" font-size="26" font-weight="normal" fill="#0d3a42" text-anchor="start" textLength="18.5" lengthAdjust="spacingAndGlyphs" stroke="#0d3a42" stroke-width="0.4">%</text>
<text x="1476" y="67" font-family="Liberation Sans, sans-serif" font-size="26" font-weight="normal" fill="#0d3a42" text-anchor="start" textLength="18.5" lengthAdjust="spacingAndGlyphs" stroke="#0d3a42" stroke-width="0.4">%</text>
<text x="102.5" y="133.7" font-family="Liberation Sans, sans-serif" font-size="19.5" font-weight="bold" fill="#0d3a42" text-anchor="start" textLength="13" lengthAdjust="spacingAndGlyphs" ><tspan dy="3.3" font-size="22.0">5</tspan></text>
<text x="1481.0" y="133.7" font-family="Liberation Sans, sans-serif" font-size="19.5" font-weight="bold" fill="#0d3a42" text-anchor="start" textLength="13" lengthAdjust="spacingAndGlyphs" ><tspan dy="3.3" font-size="22.0">5</tspan></text>
<text x="102.5" y="203.0" font-family="Liberation Sans, sans-serif" font-size="19.5" font-weight="bold" fill="#0d3a42" text-anchor="start" textLength="13" lengthAdjust="spacingAndGlyphs" ><tspan dy="3.3" font-size="22.0">4</tspan></text>
<text x="1481.0" y="203.0" font-family="Liberation Sans, sans-serif" font-size="19.5" font-weight="bold" fill="#0d3a42" text-anchor="start" textLength="13" lengthAdjust="spacingAndGlyphs" ><tspan dy="3.3" font-size="22.0">4</tspan></text>
<text x="102.5" y="271.7" font-family="Liberation Sans, sans-serif" font-size="19.5" font-weight="bold" fill="#0d3a42" text-anchor="start" textLength="13" lengthAdjust="spacingAndGlyphs" ><tspan dy="3.3" font-size="22.0">3</tspan></text>
<text x="1481.0" y="271.7" font-family="Liberation Sans, sans-serif" font-size="19.5" font-weight="bold" fill="#0d3a42" text-anchor="start" textLength="13" lengthAdjust="spacingAndGlyphs" ><tspan dy="3.3" font-size="22.0">3</tspan></text>
<text x="102.5" y="340.4" font-family="Liberation Sans, sans-serif" font-size="19.5" font-weight="bold" fill="#0d3a42" text-anchor="start" textLength="13" lengthAdjust="spacingAndGlyphs" ><tspan dy="0.0" font-size="19.5">2</tspan></text>
<text x="1481.0" y="340.4" font-family="Liberation Sans, sans-serif" font-size="19.5" font-weight="bold" fill="#0d3a42" text-anchor="start" textLength="13" lengthAdjust="spacingAndGlyphs" ><tspan dy="0.0" font-size="19.5">2</tspan></text>
<text x="102.5" y="409.1" font-family="Liberation Sans, sans-serif" font-size="19.5" font-weight="bold" fill="#0d3a42" text-anchor="start" textLength="13" lengthAdjust="spacingAndGlyphs" ><tspan dy="0.0" font-size="19.5">1</tspan></text>
<text x="1481.0" y="409.1" font-family="Liberation Sans, sans-serif" font-size="19.5" font-weight="bold" fill="#0d3a42" text-anchor="start" textLength="13" lengthAdjust="spacingAndGlyphs" ><tspan dy="0.0" font-size="19.5">1</tspan></text>
<text x="102.5" y="477.0" font-family="Liberation Sans, sans-serif" font-size="19.5" font-weight="bold" fill="#0d3a42" text-anchor="start" textLength="13" lengthAdjust="spacingAndGlyphs" ><tspan dy="0.0" font-size="19.5">0</tspan></text>
<text x="1481.0" y="477.0" font-family="Liberation Sans, sans-serif" font-size="19.5" font-weight="bold" fill="#0d3a42" text-anchor="start" textLength="13" lengthAdjust="spacingAndGlyphs" ><tspan dy="0.0" font-size="19.5">0</tspan></text>
<text x="104.5" y="619.4" font-family="Liberation Sans, sans-serif" font-size="19.5" font-weight="bold" fill="#0d3a42" text-anchor="start" textLength="13" lengthAdjust="spacingAndGlyphs" ><tspan dy="3.3" font-size="22.0">4</tspan></text>
<text x="1491.0" y="619.4" font-family="Liberation Sans, sans-serif" font-size="19.5" font-weight="bold" fill="#0d3a42" text-anchor="start" textLength="13" lengthAdjust="spacingAndGlyphs" ><tspan dy="3.3" font-size="22.0">4</tspan></text>
<text x="104.5" y="673.6" font-family="Liberation Sans, sans-serif" font-size="19.5" font-weight="bold" fill="#0d3a42" text-anchor="start" textLength="13" lengthAdjust="spacingAndGlyphs" ><tspan dy="3.3" font-size="22.0">3</tspan></text>
<text x="1491.0" y="673.6" font-family="Liberation Sans, sans-serif" font-size="19.5" font-weight="bold" fill="#0d3a42" text-anchor="start" textLength="13" lengthAdjust="spacingAndGlyphs" ><tspan dy="3.3" font-size="22.0">3</tspan></text>
<text x="104.5" y="727.2" font-family="Liberation Sans, sans-serif" font-size="19.5" font-weight="bold" fill="#0d3a42" text-anchor="start" textLength="13" lengthAdjust="spacingAndGlyphs" ><tspan dy="0.0" font-size="19.5">2</tspan></text>
<text x="1491.0" y="727.2" font-family="Liberation Sans, sans-serif" font-size="19.5" font-weight="bold" fill="#0d3a42" text-anchor="start" textLength="13" lengthAdjust="spacingAndGlyphs" ><tspan dy="0.0" font-size="19.5">2</tspan></text>
<text x="104.5" y="779.8" font-family="Liberation Sans, sans-serif" font-size="19.5" font-weight="bold" fill="#0d3a42" text-anchor="start" textLength="13" lengthAdjust="spacingAndGlyphs" ><tspan dy="0.0" font-size="19.5">1</tspan></text>
<text x="1491.0" y="779.8" font-family="Liberation Sans, sans-serif" font-size="19.5" font-weight="bold" fill="#0d3a42" text-anchor="start" textLength="13" lengthAdjust="spacingAndGlyphs" ><tspan dy="0.0" font-size="19.5">1</tspan></text>
<text x="104.5" y="833.6" font-family="Liberation Sans, sans-serif" font-size="19.5" font-weight="bold" fill="#0d3a42" text-anchor="start" textLength="13" lengthAdjust="spacingAndGlyphs" ><tspan dy="0.0" font-size="19.5">0</tspan></text>
<text x="1491.0" y="833.6" font-family="Liberation Sans, sans-serif" font-size="19.5" font-weight="bold" fill="#0d3a42" text-anchor="start" textLength="13" lengthAdjust="spacingAndGlyphs" ><tspan dy="0.0" font-size="19.5">0</tspan></text>
<text x="95.0" y="886.6" font-family="Liberation Sans, sans-serif" font-size="19.5" font-weight="bold" fill="#0d3a42" text-anchor="start" textLength="22.5" lengthAdjust="spacingAndGlyphs" ><tspan dy="0.0" font-size="19.5">-</tspan><tspan dy="0.0" font-size="19.5">1</tspan></text>
<text x="1483.5" y="886.6" font-family="Liberation Sans, sans-serif" font-size="19.5" font-weight="bold" fill="#0d3a42" text-anchor="start" textLength="22.5" lengthAdjust="spacingAndGlyphs" ><tspan dy="0.0" font-size="19.5">-</tspan><tspan dy="0.0" font-size="19.5">1</tspan></text>
<text x="95.0" y="940.4" font-family="Liberation Sans, sans-serif" font-size="19.5" font-weight="bold" fill="#0d3a42" text-anchor="start" textLength="22.5" lengthAdjust="spacingAndGlyphs" ><tspan dy="0.0" font-size="19.5">-</tspan><tspan dy="0.0" font-size="19.5">2</tspan></text>
<text x="1483.5" y="940.4" font-family="Liberation Sans, sans-serif" font-size="19.5" font-weight="bold" fill="#0d3a42" text-anchor="start" textLength="22.5" lengthAdjust="spacingAndGlyphs" ><tspan dy="0.0" font-size="19.5">-</tspan><tspan dy="0.0" font-size="19.5">2</tspan></text>
<text x="95.0" y="994.0" font-family="Liberation Sans, sans-serif" font-size="19.5" font-weight="bold" fill="#0d3a42" text-anchor="start" textLength="22.5" lengthAdjust="spacingAndGlyphs" ><tspan dy="0.0" font-size="19.5">-</tspan><tspan dy="3.3" font-size="22.0">3</tspan></text>
<text x="1483.5" y="994.0" font-family="Liberation Sans, sans-serif" font-size="19.5" font-weight="bold" fill="#0d3a42" text-anchor="start" textLength="22.5" lengthAdjust="spacingAndGlyphs" ><tspan dy="0.0" font-size="19.5">-</tspan><tspan dy="3.3" font-size="22.0">3</tspan></text>
<text x="132.5" y="1076.2" font-family="Liberation Sans, sans-serif" font-size="19.5" font-weight="bold" fill="#0d3a42" text-anchor="start" textLength="57" lengthAdjust="spacingAndGlyphs" ><tspan dy="0.0" font-size="19.5">2</tspan><tspan dy="0.0" font-size="19.5">0</tspan><tspan dy="0.0" font-size="19.5">0</tspan><tspan dy="0.0" font-size="19.5">0</tspan></text>
<text x="337.0" y="1076.2" font-family="Liberation Sans, sans-serif" font-size="19.5" font-weight="bold" fill="#0d3a42" text-anchor="start" textLength="56.8" lengthAdjust="spacingAndGlyphs" ><tspan dy="0.0" font-size="19.5">2</tspan><tspan dy="0.0" font-size="19.5">0</tspan><tspan dy="0.0" font-size="19.5">0</tspan><tspan dy="3.3" font-size="22.0">4</tspan></text>
<text x="541.1" y="1076.2" font-family="Liberation Sans, sans-serif" font-size="19.5" font-weight="bold" fill="#0d3a42" text-anchor="start" textLength="58" lengthAdjust="spacingAndGlyphs" ><tspan dy="0.0" font-size="19.5">2</tspan><tspan dy="0.0" font-size="19.5">0</tspan><tspan dy="0.0" font-size="19.5">0</tspan><tspan dy="0.0" font-size="22.0">8</tspan></text>
<text x="745.9" y="1076.2" font-family="Liberation Sans, sans-serif" font-size="19.5" font-weight="bold" fill="#0d3a42" text-anchor="start" textLength="54.2" lengthAdjust="spacingAndGlyphs" ><tspan dy="0.0" font-size="19.5">2</tspan><tspan dy="0.0" font-size="19.5">0</tspan><tspan dy="0.0" font-size="19.5">1</tspan><tspan dy="0.0" font-size="19.5">2</tspan></text>
<text x="949.6" y="1076.2" font-family="Liberation Sans, sans-serif" font-size="19.5" font-weight="bold" fill="#0d3a42" text-anchor="start" textLength="55.3" lengthAdjust="spacingAndGlyphs" ><tspan dy="0.0" font-size="19.5">2</tspan><tspan dy="0.0" font-size="19.5">0</tspan><tspan dy="0.0" font-size="19.5">1</tspan><tspan dy="0.0" font-size="22.0">6</tspan></text>
<text x="1155.4" y="1076.2" font-family="Liberation Sans, sans-serif" font-size="19.5" font-weight="bold" fill="#0d3a42" text-anchor="start" textLength="57" lengthAdjust="spacingAndGlyphs" ><tspan dy="0.0" font-size="19.5">2</tspan><tspan dy="0.0" font-size="19.5">0</tspan><tspan dy="0.0" font-size="19.5">2</tspan><tspan dy="0.0" font-size="19.5">0</tspan></text>
<text x="1360.1" y="1076.2" font-family="Liberation Sans, sans-serif" font-size="19.5" font-weight="bold" fill="#0d3a42" text-anchor="start" textLength="55.5" lengthAdjust="spacingAndGlyphs" ><tspan dy="0.0" font-size="19.5">2</tspan><tspan dy="0.0" font-size="19.5">0</tspan><tspan dy="0.0" font-size="19.5">2</tspan><tspan dy="3.3" font-size="22.0">4</tspan></text>
<text y="1000" fill="#0d3a42"><tspan x="165.5" y="999.6" font-family="Liberation Sans, sans-serif" font-size="24.5" font-weight="bold" stroke="#0d3a42" stroke-width="0.6" textLength="22" lengthAdjust="spacingAndGlyphs">©</tspan> <tspan x="195" y="1000" font-family="Liberation Serif, serif" font-weight="bold" font-size="32.5" stroke="#0d3a42" stroke-width="0.6" textLength="34" lengthAdjust="spacingAndGlyphs">BC</tspan><tspan x="229" y="1000" font-family="Liberation Serif, serif" font-size="45" textLength="33" lengthAdjust="spacingAndGlyphs">α</tspan> <tspan x="272" y="1000" font-family="Liberation Serif, serif" font-size="31" stroke="#0d3a42" stroke-width="0.3" textLength="114" lengthAdjust="spacingAndGlyphs">Research</tspan> <tspan x="397" y="1000" font-family="Liberation Sans, sans-serif" font-size="20.5" font-weight="bold" textLength="61" lengthAdjust="spacingAndGlyphs">2022</tspan></text>
</svg>
</body></html>
